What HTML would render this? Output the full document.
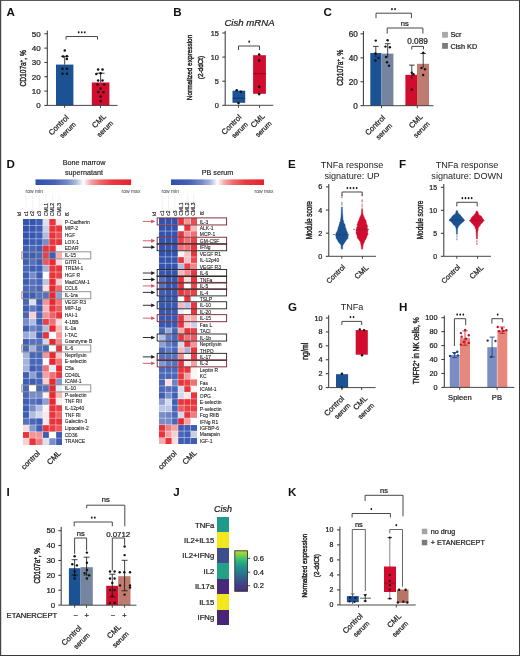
<!DOCTYPE html><html><head><meta charset="utf-8"><title>Figure</title><style>html,body{margin:0;padding:0;background:#fff;overflow:hidden;}svg{display:block;font-family:"Liberation Sans",sans-serif;fill:#222;}svg text{}</style></head><body>
<svg width="520" height="656" viewBox="0 0 520 656">
<defs><filter id="gaa" x="0" y="0" width="1" height="1" color-interpolation-filters="sRGB"><feGaussianBlur stdDeviation="0.3"/></filter></defs>
<g filter="url(#gaa)">
<rect x="0" y="0" width="520" height="656" fill="#fff"/>
<text x="6.6" y="15.9" font-size="11.6" font-weight="bold" fill="#111">A</text>
<rect x="56" y="64.59" width="17.4" height="40.81" fill="#1a5294"/>
<rect x="91.8" y="82.49" width="17.6" height="22.91" fill="#d20c2e"/>
<line x1="64.7" y1="64.59" x2="64.7" y2="56.3" stroke="#111" stroke-width="0.8"/>
<line x1="61" y1="56.3" x2="68.6" y2="56.3" stroke="#111" stroke-width="0.8"/>
<line x1="100.6" y1="82.49" x2="100.6" y2="73.2" stroke="#111" stroke-width="0.8"/>
<line x1="97" y1="73.2" x2="104.6" y2="73.2" stroke="#111" stroke-width="0.8"/>
<circle cx="64.75" cy="50.4" r="1.25" fill="#111"/>
<circle cx="63.1" cy="56.4" r="1.25" fill="#111"/>
<circle cx="66.9" cy="56.2" r="1.25" fill="#111"/>
<circle cx="66.9" cy="59" r="1.25" fill="#111"/>
<circle cx="62.5" cy="68.75" r="1.25" fill="#111"/>
<circle cx="66.9" cy="68.75" r="1.25" fill="#111"/>
<circle cx="62.5" cy="73.75" r="1.25" fill="#111"/>
<circle cx="66.9" cy="73.75" r="1.25" fill="#111"/>
<circle cx="98.1" cy="69.4" r="1.25" fill="#111"/>
<circle cx="102.5" cy="69.4" r="1.25" fill="#111"/>
<circle cx="96.3" cy="74" r="1.25" fill="#111"/>
<circle cx="100.6" cy="73.3" r="1.25" fill="#111"/>
<circle cx="98.1" cy="80.6" r="1.25" fill="#111"/>
<circle cx="102.5" cy="80.6" r="1.25" fill="#111"/>
<circle cx="97.5" cy="84.4" r="1.25" fill="#111"/>
<circle cx="104.2" cy="84.4" r="1.25" fill="#111"/>
<circle cx="100.6" cy="88.6" r="1.25" fill="#111"/>
<circle cx="98.3" cy="92" r="1.25" fill="#111"/>
<circle cx="103.3" cy="92.2" r="1.25" fill="#111"/>
<circle cx="100.6" cy="96.5" r="1.25" fill="#111"/>
<circle cx="100.6" cy="101" r="1.25" fill="#111"/>
<line x1="47.3" y1="30.6" x2="47.3" y2="105.4" stroke="#333" stroke-width="1"/>
<line x1="44.4" y1="105.4" x2="47.3" y2="105.4" stroke="#333" stroke-width="1"/>
<text x="40.7" y="108.2" font-size="8" text-anchor="end" stroke="#222" stroke-width="0.24">0</text>
<line x1="44.4" y1="91.08" x2="47.3" y2="91.08" stroke="#333" stroke-width="1"/>
<text x="40.7" y="93.88" font-size="8" text-anchor="end" stroke="#222" stroke-width="0.24">10</text>
<line x1="44.4" y1="76.76" x2="47.3" y2="76.76" stroke="#333" stroke-width="1"/>
<text x="40.7" y="79.56" font-size="8" text-anchor="end" stroke="#222" stroke-width="0.24">20</text>
<line x1="44.4" y1="62.44" x2="47.3" y2="62.44" stroke="#333" stroke-width="1"/>
<text x="40.7" y="65.24" font-size="8" text-anchor="end" stroke="#222" stroke-width="0.24">30</text>
<line x1="44.4" y1="48.12" x2="47.3" y2="48.12" stroke="#333" stroke-width="1"/>
<text x="40.7" y="50.92" font-size="8" text-anchor="end" stroke="#222" stroke-width="0.24">40</text>
<line x1="44.4" y1="33.8" x2="47.3" y2="33.8" stroke="#333" stroke-width="1"/>
<text x="40.7" y="36.6" font-size="8" text-anchor="end" stroke="#222" stroke-width="0.24">50</text>
<line x1="47.3" y1="105.4" x2="117.5" y2="105.4" stroke="#333" stroke-width="0.9"/>
<line x1="64.6" y1="105.4" x2="64.6" y2="107.9" stroke="#333" stroke-width="0.9"/>
<line x1="100.5" y1="105.4" x2="100.5" y2="107.9" stroke="#333" stroke-width="0.9"/>
<path d="M66 39.6V36.5H97.5V39.6" fill="none" stroke="#333" stroke-width="0.9"/>
<ellipse cx="78.7" cy="32.3" rx="0.9" ry="1.1" fill="#1a1a1a"/>
<ellipse cx="81.75" cy="32.3" rx="0.9" ry="1.1" fill="#1a1a1a"/>
<ellipse cx="84.8" cy="32.3" rx="0.9" ry="1.1" fill="#1a1a1a"/>
<text transform="translate(25.7,68.35) rotate(-90) scale(0.789,1)" font-size="8.4" text-anchor="middle" stroke="#222" stroke-width="0.4">CD107a<tspan dy="-3.19" font-size="5.21">+</tspan><tspan dy="3.19">, %</tspan></text>
<text transform="translate(58.5,125) rotate(-45)" font-size="7.7" text-anchor="middle" dy="0.35em" stroke="#222" stroke-width="0.24">Control</text>
<text transform="translate(67.7,130) rotate(-45)" font-size="7" text-anchor="middle" dy="0.35em" stroke="#222" stroke-width="0.24">serum</text>
<text transform="translate(98.8,120.8) rotate(-45)" font-size="7.7" text-anchor="middle" dy="0.35em" stroke="#222" stroke-width="0.24">CML</text>
<text transform="translate(105,128.8) rotate(-45)" font-size="7" text-anchor="middle" dy="0.35em" stroke="#222" stroke-width="0.24">serum</text>
<text x="173.2" y="15.9" font-size="11.6" font-weight="bold" fill="#111">B</text>
<text x="249.5" y="25.6" font-size="9.6" text-anchor="middle" font-style="italic" stroke="#222" stroke-width="0.24">Cish mRNA</text>
<rect x="232.5" y="90.7" width="12.7" height="12.1" fill="#1a5294"/>
<line x1="232.5" y1="98.2" x2="245.2" y2="98.2" stroke="#0d2f5c" stroke-width="0.7"/>
<rect x="253.1" y="55.2" width="12.8" height="38.6" fill="#d20c2e"/>
<line x1="253.1" y1="73.7" x2="265.9" y2="73.7" stroke="#7a0a1c" stroke-width="0.8"/>
<circle cx="236.7" cy="90.2" r="1.3" fill="#111"/>
<circle cx="240.8" cy="91.8" r="1.3" fill="#111"/>
<circle cx="238.5" cy="103.1" r="1.3" fill="#111"/>
<circle cx="259.2" cy="54.6" r="1.3" fill="#111"/>
<circle cx="259.2" cy="60.6" r="1.3" fill="#111"/>
<circle cx="259.2" cy="86.9" r="1.3" fill="#111"/>
<circle cx="259.2" cy="94.1" r="1.3" fill="#111"/>
<line x1="225.2" y1="30.8" x2="225.2" y2="105.3" stroke="#333" stroke-width="1"/>
<line x1="222.3" y1="105.3" x2="225.2" y2="105.3" stroke="#333" stroke-width="1"/>
<text x="218.9" y="107.87" font-size="7.35" text-anchor="end" stroke="#222" stroke-width="0.24">0</text>
<line x1="222.3" y1="81.2" x2="225.2" y2="81.2" stroke="#333" stroke-width="1"/>
<text x="218.9" y="83.77" font-size="7.35" text-anchor="end" stroke="#222" stroke-width="0.24">5</text>
<line x1="222.3" y1="57.1" x2="225.2" y2="57.1" stroke="#333" stroke-width="1"/>
<text x="218.9" y="59.67" font-size="7.35" text-anchor="end" stroke="#222" stroke-width="0.24">10</text>
<line x1="222.3" y1="33" x2="225.2" y2="33" stroke="#333" stroke-width="1"/>
<text x="218.9" y="35.57" font-size="7.35" text-anchor="end" stroke="#222" stroke-width="0.24">15</text>
<line x1="225.2" y1="105.3" x2="273.3" y2="105.3" stroke="#333" stroke-width="0.9"/>
<line x1="238.5" y1="105.3" x2="238.5" y2="107.8" stroke="#333" stroke-width="0.9"/>
<line x1="259.5" y1="105.3" x2="259.5" y2="107.8" stroke="#333" stroke-width="0.9"/>
<path d="M238.5 50V46H259.5V50" fill="none" stroke="#333" stroke-width="0.9"/>
<ellipse cx="249.2" cy="41.7" rx="0.9" ry="1.1" fill="#1a1a1a"/>
<text transform="translate(191.5,67.5) rotate(-90) scale(0.807,1)" font-size="8" text-anchor="middle" stroke="#222" stroke-width="0.4">Normalized expression</text>
<text transform="translate(203.2,67.5) rotate(-90) scale(0.801,1)" font-size="8" text-anchor="middle" stroke="#222" stroke-width="0.4">(2-ddCt)</text>
<text transform="translate(231.4,124.5) rotate(-45)" font-size="7.7" text-anchor="middle" dy="0.35em" stroke="#222" stroke-width="0.24">Control</text>
<text transform="translate(239.7,130) rotate(-45)" font-size="7" text-anchor="middle" dy="0.35em" stroke="#222" stroke-width="0.24">serum</text>
<text transform="translate(257.6,120.5) rotate(-45)" font-size="7.7" text-anchor="middle" dy="0.35em" stroke="#222" stroke-width="0.24">CML</text>
<text transform="translate(263.5,129) rotate(-45)" font-size="7" text-anchor="middle" dy="0.35em" stroke="#222" stroke-width="0.24">serum</text>
<text x="323.6" y="15.9" font-size="11.6" font-weight="bold" fill="#111">C</text>
<rect x="370.3" y="53.03" width="11.1" height="52.67" fill="#1a5294"/>
<rect x="381.4" y="53.63" width="12" height="52.07" fill="#75849f"/>
<rect x="405.4" y="74.82" width="11.6" height="30.88" fill="#d20c2e"/>
<rect x="417" y="63.8" width="12" height="41.9" fill="#c07b70"/>
<line x1="375.8" y1="46.4" x2="375.8" y2="57.03" stroke="#111" stroke-width="0.8"/>
<line x1="373" y1="46.4" x2="378.6" y2="46.4" stroke="#111" stroke-width="0.8"/>
<line x1="387.7" y1="43.7" x2="387.7" y2="57.63" stroke="#111" stroke-width="0.8"/>
<line x1="384.9" y1="43.7" x2="390.5" y2="43.7" stroke="#111" stroke-width="0.8"/>
<line x1="411.8" y1="65.1" x2="411.8" y2="78.82" stroke="#111" stroke-width="0.8"/>
<line x1="409" y1="65.1" x2="414.6" y2="65.1" stroke="#111" stroke-width="0.8"/>
<line x1="423.2" y1="53.5" x2="423.2" y2="67.81" stroke="#111" stroke-width="0.8"/>
<line x1="420.4" y1="53.5" x2="426" y2="53.5" stroke="#111" stroke-width="0.8"/>
<circle cx="375.8" cy="40.6" r="1.2" fill="#111"/>
<circle cx="375.4" cy="53.5" r="1.2" fill="#111"/>
<circle cx="375.4" cy="60.5" r="1.2" fill="#111"/>
<circle cx="378.5" cy="58" r="1.2" fill="#111"/>
<circle cx="387.6" cy="40.3" r="1.2" fill="#111"/>
<circle cx="385.5" cy="46.6" r="1.2" fill="#111"/>
<circle cx="389.9" cy="47.2" r="1.2" fill="#111"/>
<circle cx="387" cy="62.3" r="1.2" fill="#111"/>
<circle cx="389" cy="65.8" r="1.2" fill="#111"/>
<circle cx="386" cy="57" r="1.2" fill="#111"/>
<circle cx="411.8" cy="72.7" r="1.2" fill="#111"/>
<circle cx="413.5" cy="74.3" r="1.2" fill="#111"/>
<circle cx="411.8" cy="89.5" r="1.2" fill="#111"/>
<circle cx="423.2" cy="52.8" r="1.2" fill="#111"/>
<circle cx="421.5" cy="68" r="1.2" fill="#111"/>
<circle cx="425" cy="69.2" r="1.2" fill="#111"/>
<circle cx="423.2" cy="75" r="1.2" fill="#111"/>
<line x1="363.4" y1="31" x2="363.4" y2="105.7" stroke="#333" stroke-width="1"/>
<line x1="360.5" y1="105.7" x2="363.4" y2="105.7" stroke="#333" stroke-width="1"/>
<text x="357.8" y="108.57" font-size="8.2" text-anchor="end" stroke="#222" stroke-width="0.24">0</text>
<line x1="360.5" y1="81.76" x2="363.4" y2="81.76" stroke="#333" stroke-width="1"/>
<text x="357.8" y="84.63" font-size="8.2" text-anchor="end" stroke="#222" stroke-width="0.24">20</text>
<line x1="360.5" y1="57.82" x2="363.4" y2="57.82" stroke="#333" stroke-width="1"/>
<text x="357.8" y="60.69" font-size="8.2" text-anchor="end" stroke="#222" stroke-width="0.24">40</text>
<line x1="360.5" y1="33.88" x2="363.4" y2="33.88" stroke="#333" stroke-width="1"/>
<text x="357.8" y="36.75" font-size="8.2" text-anchor="end" stroke="#222" stroke-width="0.24">60</text>
<line x1="363.4" y1="105.7" x2="433.5" y2="105.7" stroke="#333" stroke-width="0.9"/>
<line x1="381.5" y1="105.7" x2="381.5" y2="108.2" stroke="#333" stroke-width="0.9"/>
<line x1="417.3" y1="105.7" x2="417.3" y2="108.2" stroke="#333" stroke-width="0.9"/>
<path d="M376 18.2V13.2H411.4V18.2" fill="none" stroke="#333" stroke-width="0.9"/>
<ellipse cx="391.98" cy="9.2" rx="0.9" ry="1.1" fill="#1a1a1a"/>
<ellipse cx="395.03" cy="9.2" rx="0.9" ry="1.1" fill="#1a1a1a"/>
<path d="M387.2 33.6V28H422.9V33.6" fill="none" stroke="#333" stroke-width="0.9"/>
<text x="404.7" y="26" font-size="7.6" text-anchor="middle" stroke="#222" stroke-width="0.24">ns</text>
<path d="M411.8 49.4V46.4H423.5V49.4" fill="none" stroke="#333" stroke-width="0.9"/>
<text x="417.5" y="44" font-size="8.2" text-anchor="middle" stroke="#222" stroke-width="0.24">0.089</text>
<text transform="translate(342.8,67.65) rotate(-90) scale(0.785,1)" font-size="8.4" text-anchor="middle" stroke="#222" stroke-width="0.4">CD107a<tspan dy="-3.19" font-size="5.21">+</tspan><tspan dy="3.19">, %</tspan></text>
<rect x="442.1" y="31.9" width="5.8" height="5.8" fill="#a8a8a8"/>
<rect x="442.1" y="43" width="5.8" height="5.8" fill="#7c7c7c"/>
<text x="450.4" y="37.4" font-size="7.3" stroke="#222" stroke-width="0.24">Scr</text>
<text x="450.4" y="48.5" font-size="7.3" stroke="#222" stroke-width="0.24">Cish KD</text>
<text transform="translate(375,125.2) rotate(-45)" font-size="7.7" text-anchor="middle" dy="0.35em" stroke="#222" stroke-width="0.24">Control</text>
<text transform="translate(383.9,131.3) rotate(-45)" font-size="7" text-anchor="middle" dy="0.35em" stroke="#222" stroke-width="0.24">serum</text>
<text transform="translate(415.7,121) rotate(-45)" font-size="7.7" text-anchor="middle" dy="0.35em" stroke="#222" stroke-width="0.24">CML</text>
<text transform="translate(421.5,129.6) rotate(-45)" font-size="7" text-anchor="middle" dy="0.35em" stroke="#222" stroke-width="0.24">serum</text>
<text x="6.5" y="168.4" font-size="11.6" font-weight="bold" fill="#111">D</text>
<text x="84" y="165" font-size="7.2" text-anchor="middle" stroke="#222" stroke-width="0.16">Bone marrow</text>
<text x="84" y="174.6" font-size="7.2" text-anchor="middle" stroke="#222" stroke-width="0.16">supernatant</text>
<text x="217.5" y="174.5" font-size="7.2" text-anchor="middle" stroke="#222" stroke-width="0.16">PB serum</text>
<defs><linearGradient id="cb1" x1="0" x2="1" y1="0" y2="0"><stop offset="0" stop-color="#2e4eac"/><stop offset="0.2" stop-color="#4662b5"/><stop offset="0.33" stop-color="#7388c7"/><stop offset="0.42" stop-color="#a9b6dd"/><stop offset="0.48" stop-color="#e8ecf6"/><stop offset="0.5" stop-color="#ffffff"/><stop offset="0.52" stop-color="#fce7e8"/><stop offset="0.58" stop-color="#f5a4a8"/><stop offset="0.67" stop-color="#ee6b70"/><stop offset="0.8" stop-color="#e93b42"/><stop offset="1" stop-color="#e6222a"/></linearGradient></defs>
<rect x="35.5" y="179.4" width="95.6" height="5.6" fill="url(#cb1)"/>
<defs><linearGradient id="cb2" x1="0" x2="1" y1="0" y2="0"><stop offset="0" stop-color="#2e4eac"/><stop offset="0.2" stop-color="#4662b5"/><stop offset="0.33" stop-color="#7388c7"/><stop offset="0.42" stop-color="#a9b6dd"/><stop offset="0.48" stop-color="#e8ecf6"/><stop offset="0.5" stop-color="#ffffff"/><stop offset="0.52" stop-color="#fce7e8"/><stop offset="0.58" stop-color="#f5a4a8"/><stop offset="0.67" stop-color="#ee6b70"/><stop offset="0.8" stop-color="#e93b42"/><stop offset="1" stop-color="#e6222a"/></linearGradient></defs>
<rect x="171" y="179.4" width="93" height="5.6" fill="url(#cb2)"/>
<text x="25.5" y="193" font-size="5" fill="#555" stroke="#555" stroke-width="0.05">row min</text>
<text x="121.5" y="193" font-size="5" fill="#555" stroke="#555" stroke-width="0.05">row max</text>
<text x="161.5" y="193" font-size="5" fill="#555" stroke="#555" stroke-width="0.05">row min</text>
<text x="254.5" y="193" font-size="5" fill="#555" stroke="#555" stroke-width="0.05">row max</text>
<g shape-rendering="crispEdges">
<rect x="22.8" y="218.8" width="6.6" height="6.65" fill="#3453ae"/>
<rect x="29.4" y="218.8" width="6.6" height="6.65" fill="#3453ae"/>
<rect x="36" y="218.8" width="6.6" height="6.65" fill="#3f5db3"/>
<rect x="42.6" y="218.8" width="6.6" height="6.65" fill="#dde2f2"/>
<rect x="49.2" y="218.8" width="6.6" height="6.65" fill="#e8343b"/>
<rect x="55.8" y="218.8" width="6.6" height="6.65" fill="#fce7e8"/>
<rect x="22.8" y="225.45" width="6.6" height="6.65" fill="#3453ae"/>
<rect x="29.4" y="225.45" width="6.6" height="6.65" fill="#3857b0"/>
<rect x="36" y="225.45" width="6.6" height="6.65" fill="#3f5db3"/>
<rect x="42.6" y="225.45" width="6.6" height="6.65" fill="#c7cfe9"/>
<rect x="49.2" y="225.45" width="6.6" height="6.65" fill="#e8343b"/>
<rect x="55.8" y="225.45" width="6.6" height="6.65" fill="#e8343b"/>
<rect x="22.8" y="232.1" width="6.6" height="6.65" fill="#3453ae"/>
<rect x="29.4" y="232.1" width="6.6" height="6.65" fill="#3857b0"/>
<rect x="36" y="232.1" width="6.6" height="6.65" fill="#3f5db3"/>
<rect x="42.6" y="232.1" width="6.6" height="6.65" fill="#b0bce0"/>
<rect x="49.2" y="232.1" width="6.6" height="6.65" fill="#e8343b"/>
<rect x="55.8" y="232.1" width="6.6" height="6.65" fill="#eb4c52"/>
<rect x="22.8" y="238.75" width="6.6" height="6.65" fill="#3453ae"/>
<rect x="29.4" y="238.75" width="6.6" height="6.65" fill="#3f5db3"/>
<rect x="36" y="238.75" width="6.6" height="6.65" fill="#3f5db3"/>
<rect x="42.6" y="238.75" width="6.6" height="6.65" fill="#788cc9"/>
<rect x="49.2" y="238.75" width="6.6" height="6.65" fill="#e8343b"/>
<rect x="55.8" y="238.75" width="6.6" height="6.65" fill="#e8343b"/>
<rect x="22.8" y="245.4" width="6.6" height="6.65" fill="#3f5db3"/>
<rect x="29.4" y="245.4" width="6.6" height="6.65" fill="#4a66b7"/>
<rect x="36" y="245.4" width="6.6" height="6.65" fill="#3f5db3"/>
<rect x="42.6" y="245.4" width="6.6" height="6.65" fill="#e8343b"/>
<rect x="49.2" y="245.4" width="6.6" height="6.65" fill="#e8343b"/>
<rect x="55.8" y="245.4" width="6.6" height="6.65" fill="#fef3f3"/>
<rect x="22.8" y="252.05" width="6.6" height="6.65" fill="#3f5db3"/>
<rect x="29.4" y="252.05" width="6.6" height="6.65" fill="#3f5db3"/>
<rect x="36" y="252.05" width="6.6" height="6.65" fill="#4a66b7"/>
<rect x="42.6" y="252.05" width="6.6" height="6.65" fill="#e94047"/>
<rect x="49.2" y="252.05" width="6.6" height="6.65" fill="#3f5db3"/>
<rect x="55.8" y="252.05" width="6.6" height="6.65" fill="#f6abae"/>
<rect x="22.8" y="258.7" width="6.6" height="6.65" fill="#3f5db3"/>
<rect x="29.4" y="258.7" width="6.6" height="6.65" fill="#5670bc"/>
<rect x="36" y="258.7" width="6.6" height="6.65" fill="#3f5db3"/>
<rect x="42.6" y="258.7" width="6.6" height="6.65" fill="#ec585e"/>
<rect x="49.2" y="258.7" width="6.6" height="6.65" fill="#e72830"/>
<rect x="55.8" y="258.7" width="6.6" height="6.65" fill="#fbdbdc"/>
<rect x="22.8" y="265.35" width="6.6" height="6.65" fill="#4a66b7"/>
<rect x="29.4" y="265.35" width="6.6" height="6.65" fill="#3f5db3"/>
<rect x="36" y="265.35" width="6.6" height="6.65" fill="#3f5db3"/>
<rect x="42.6" y="265.35" width="6.6" height="6.65" fill="#a5b3db"/>
<rect x="49.2" y="265.35" width="6.6" height="6.65" fill="#e8343b"/>
<rect x="55.8" y="265.35" width="6.6" height="6.65" fill="#e8343b"/>
<rect x="22.8" y="272" width="6.6" height="6.65" fill="#3f5db3"/>
<rect x="29.4" y="272" width="6.6" height="6.65" fill="#788cc9"/>
<rect x="36" y="272" width="6.6" height="6.65" fill="#3f5db3"/>
<rect x="42.6" y="272" width="6.6" height="6.65" fill="#ffffff"/>
<rect x="49.2" y="272" width="6.6" height="6.65" fill="#e8343b"/>
<rect x="55.8" y="272" width="6.6" height="6.65" fill="#e94047"/>
<rect x="22.8" y="278.65" width="6.6" height="6.65" fill="#3f5db3"/>
<rect x="29.4" y="278.65" width="6.6" height="6.65" fill="#5670bc"/>
<rect x="36" y="278.65" width="6.6" height="6.65" fill="#4a66b7"/>
<rect x="42.6" y="278.65" width="6.6" height="6.65" fill="#bbc6e4"/>
<rect x="49.2" y="278.65" width="6.6" height="6.65" fill="#e72830"/>
<rect x="55.8" y="278.65" width="6.6" height="6.65" fill="#facfd1"/>
<rect x="22.8" y="285.3" width="6.6" height="6.65" fill="#4a66b7"/>
<rect x="29.4" y="285.3" width="6.6" height="6.65" fill="#5670bc"/>
<rect x="36" y="285.3" width="6.6" height="6.65" fill="#4a66b7"/>
<rect x="42.6" y="285.3" width="6.6" height="6.65" fill="#fbdbdc"/>
<rect x="49.2" y="285.3" width="6.6" height="6.65" fill="#e72830"/>
<rect x="55.8" y="285.3" width="6.6" height="6.65" fill="#ed6469"/>
<rect x="22.8" y="291.95" width="6.6" height="6.65" fill="#3f5db3"/>
<rect x="29.4" y="291.95" width="6.6" height="6.65" fill="#3f5db3"/>
<rect x="36" y="291.95" width="6.6" height="6.65" fill="#5670bc"/>
<rect x="42.6" y="291.95" width="6.6" height="6.65" fill="#5670bc"/>
<rect x="49.2" y="291.95" width="6.6" height="6.65" fill="#e72830"/>
<rect x="55.8" y="291.95" width="6.6" height="6.65" fill="#8e9fd2"/>
<rect x="22.8" y="298.6" width="6.6" height="6.65" fill="#4a66b7"/>
<rect x="29.4" y="298.6" width="6.6" height="6.65" fill="#dde2f2"/>
<rect x="36" y="298.6" width="6.6" height="6.65" fill="#3f5db3"/>
<rect x="42.6" y="298.6" width="6.6" height="6.65" fill="#f39497"/>
<rect x="49.2" y="298.6" width="6.6" height="6.65" fill="#e72830"/>
<rect x="55.8" y="298.6" width="6.6" height="6.65" fill="#ef7075"/>
<rect x="22.8" y="305.25" width="6.6" height="6.65" fill="#3f5db3"/>
<rect x="29.4" y="305.25" width="6.6" height="6.65" fill="#6179c0"/>
<rect x="36" y="305.25" width="6.6" height="6.65" fill="#3f5db3"/>
<rect x="42.6" y="305.25" width="6.6" height="6.65" fill="#f7b7ba"/>
<rect x="49.2" y="305.25" width="6.6" height="6.65" fill="#e8343b"/>
<rect x="55.8" y="305.25" width="6.6" height="6.65" fill="#ec585e"/>
<rect x="22.8" y="311.9" width="6.6" height="6.65" fill="#4a66b7"/>
<rect x="29.4" y="311.9" width="6.6" height="6.65" fill="#facfd1"/>
<rect x="36" y="311.9" width="6.6" height="6.65" fill="#4a66b7"/>
<rect x="42.6" y="311.9" width="6.6" height="6.65" fill="#f39497"/>
<rect x="49.2" y="311.9" width="6.6" height="6.65" fill="#ed6469"/>
<rect x="55.8" y="311.9" width="6.6" height="6.65" fill="#e8343b"/>
<rect x="22.8" y="318.55" width="6.6" height="6.65" fill="#788cc9"/>
<rect x="29.4" y="318.55" width="6.6" height="6.65" fill="#b0bce0"/>
<rect x="36" y="318.55" width="6.6" height="6.65" fill="#3f5db3"/>
<rect x="42.6" y="318.55" width="6.6" height="6.65" fill="#e94047"/>
<rect x="49.2" y="318.55" width="6.6" height="6.65" fill="#ef7075"/>
<rect x="55.8" y="318.55" width="6.6" height="6.65" fill="#fbdbdc"/>
<rect x="22.8" y="325.2" width="6.6" height="6.65" fill="#3f5db3"/>
<rect x="29.4" y="325.2" width="6.6" height="6.65" fill="#6c83c5"/>
<rect x="36" y="325.2" width="6.6" height="6.65" fill="#5670bc"/>
<rect x="42.6" y="325.2" width="6.6" height="6.65" fill="#b0bce0"/>
<rect x="49.2" y="325.2" width="6.6" height="6.65" fill="#e72830"/>
<rect x="55.8" y="325.2" width="6.6" height="6.65" fill="#f7b7ba"/>
<rect x="22.8" y="331.85" width="6.6" height="6.65" fill="#99a9d7"/>
<rect x="29.4" y="331.85" width="6.6" height="6.65" fill="#b0bce0"/>
<rect x="36" y="331.85" width="6.6" height="6.65" fill="#3f5db3"/>
<rect x="42.6" y="331.85" width="6.6" height="6.65" fill="#e8343b"/>
<rect x="49.2" y="331.85" width="6.6" height="6.65" fill="#ffffff"/>
<rect x="55.8" y="331.85" width="6.6" height="6.65" fill="#f39497"/>
<rect x="22.8" y="338.5" width="6.6" height="6.65" fill="#3f5db3"/>
<rect x="29.4" y="338.5" width="6.6" height="6.65" fill="#5670bc"/>
<rect x="36" y="338.5" width="6.6" height="6.65" fill="#5670bc"/>
<rect x="42.6" y="338.5" width="6.6" height="6.65" fill="#d2d9ed"/>
<rect x="49.2" y="338.5" width="6.6" height="6.65" fill="#e72830"/>
<rect x="55.8" y="338.5" width="6.6" height="6.65" fill="#f2888c"/>
<rect x="22.8" y="345.15" width="6.6" height="6.65" fill="#4a66b7"/>
<rect x="29.4" y="345.15" width="6.6" height="6.65" fill="#a5b3db"/>
<rect x="36" y="345.15" width="6.6" height="6.65" fill="#5670bc"/>
<rect x="42.6" y="345.15" width="6.6" height="6.65" fill="#4a66b7"/>
<rect x="49.2" y="345.15" width="6.6" height="6.65" fill="#ffffff"/>
<rect x="55.8" y="345.15" width="6.6" height="6.65" fill="#e8343b"/>
<rect x="22.8" y="351.8" width="6.6" height="6.65" fill="#a5b3db"/>
<rect x="29.4" y="351.8" width="6.6" height="6.65" fill="#4a66b7"/>
<rect x="36" y="351.8" width="6.6" height="6.65" fill="#4a66b7"/>
<rect x="42.6" y="351.8" width="6.6" height="6.65" fill="#f39497"/>
<rect x="49.2" y="351.8" width="6.6" height="6.65" fill="#e72830"/>
<rect x="55.8" y="351.8" width="6.6" height="6.65" fill="#f8c3c5"/>
<rect x="22.8" y="358.45" width="6.6" height="6.65" fill="#a5b3db"/>
<rect x="29.4" y="358.45" width="6.6" height="6.65" fill="#4a66b7"/>
<rect x="36" y="358.45" width="6.6" height="6.65" fill="#4a66b7"/>
<rect x="42.6" y="358.45" width="6.6" height="6.65" fill="#ffffff"/>
<rect x="49.2" y="358.45" width="6.6" height="6.65" fill="#e72830"/>
<rect x="55.8" y="358.45" width="6.6" height="6.65" fill="#ef7075"/>
<rect x="22.8" y="365.1" width="6.6" height="6.65" fill="#a5b3db"/>
<rect x="29.4" y="365.1" width="6.6" height="6.65" fill="#3f5db3"/>
<rect x="36" y="365.1" width="6.6" height="6.65" fill="#4a66b7"/>
<rect x="42.6" y="365.1" width="6.6" height="6.65" fill="#ef7075"/>
<rect x="49.2" y="365.1" width="6.6" height="6.65" fill="#e8ecf6"/>
<rect x="55.8" y="365.1" width="6.6" height="6.65" fill="#e72830"/>
<rect x="22.8" y="371.75" width="6.6" height="6.65" fill="#3f5db3"/>
<rect x="29.4" y="371.75" width="6.6" height="6.65" fill="#8e9fd2"/>
<rect x="36" y="371.75" width="6.6" height="6.65" fill="#4a66b7"/>
<rect x="42.6" y="371.75" width="6.6" height="6.65" fill="#f4a0a3"/>
<rect x="49.2" y="371.75" width="6.6" height="6.65" fill="#ef7075"/>
<rect x="55.8" y="371.75" width="6.6" height="6.65" fill="#e8343b"/>
<rect x="22.8" y="378.4" width="6.6" height="6.65" fill="#3f5db3"/>
<rect x="29.4" y="378.4" width="6.6" height="6.65" fill="#3f5db3"/>
<rect x="36" y="378.4" width="6.6" height="6.65" fill="#4a66b7"/>
<rect x="42.6" y="378.4" width="6.6" height="6.65" fill="#facfd1"/>
<rect x="49.2" y="378.4" width="6.6" height="6.65" fill="#e72830"/>
<rect x="55.8" y="378.4" width="6.6" height="6.65" fill="#8396ce"/>
<rect x="22.8" y="385.05" width="6.6" height="6.65" fill="#4a66b7"/>
<rect x="29.4" y="385.05" width="6.6" height="6.65" fill="#ffffff"/>
<rect x="36" y="385.05" width="6.6" height="6.65" fill="#4a66b7"/>
<rect x="42.6" y="385.05" width="6.6" height="6.65" fill="#5670bc"/>
<rect x="49.2" y="385.05" width="6.6" height="6.65" fill="#e72830"/>
<rect x="55.8" y="385.05" width="6.6" height="6.65" fill="#e8ecf6"/>
<rect x="22.8" y="391.7" width="6.6" height="6.65" fill="#4a66b7"/>
<rect x="29.4" y="391.7" width="6.6" height="6.65" fill="#788cc9"/>
<rect x="36" y="391.7" width="6.6" height="6.65" fill="#788cc9"/>
<rect x="42.6" y="391.7" width="6.6" height="6.65" fill="#fef3f3"/>
<rect x="49.2" y="391.7" width="6.6" height="6.65" fill="#e72830"/>
<rect x="55.8" y="391.7" width="6.6" height="6.65" fill="#f7b7ba"/>
<rect x="22.8" y="398.35" width="6.6" height="6.65" fill="#3f5db3"/>
<rect x="29.4" y="398.35" width="6.6" height="6.65" fill="#5670bc"/>
<rect x="36" y="398.35" width="6.6" height="6.65" fill="#4a66b7"/>
<rect x="42.6" y="398.35" width="6.6" height="6.65" fill="#8e9fd2"/>
<rect x="49.2" y="398.35" width="6.6" height="6.65" fill="#e72830"/>
<rect x="55.8" y="398.35" width="6.6" height="6.65" fill="#fdeced"/>
<rect x="22.8" y="405" width="6.6" height="6.65" fill="#3f5db3"/>
<rect x="29.4" y="405" width="6.6" height="6.65" fill="#788cc9"/>
<rect x="36" y="405" width="6.6" height="6.65" fill="#b0bce0"/>
<rect x="42.6" y="405" width="6.6" height="6.65" fill="#fef3f3"/>
<rect x="49.2" y="405" width="6.6" height="6.65" fill="#e8343b"/>
<rect x="55.8" y="405" width="6.6" height="6.65" fill="#e94047"/>
<rect x="22.8" y="411.65" width="6.6" height="6.65" fill="#3f5db3"/>
<rect x="29.4" y="411.65" width="6.6" height="6.65" fill="#b0bce0"/>
<rect x="36" y="411.65" width="6.6" height="6.65" fill="#d2d9ed"/>
<rect x="42.6" y="411.65" width="6.6" height="6.65" fill="#fce7e8"/>
<rect x="49.2" y="411.65" width="6.6" height="6.65" fill="#e8343b"/>
<rect x="55.8" y="411.65" width="6.6" height="6.65" fill="#ed6469"/>
<rect x="22.8" y="418.3" width="6.6" height="6.65" fill="#5670bc"/>
<rect x="29.4" y="418.3" width="6.6" height="6.65" fill="#4a66b7"/>
<rect x="36" y="418.3" width="6.6" height="6.65" fill="#3f5db3"/>
<rect x="42.6" y="418.3" width="6.6" height="6.65" fill="#fce7e8"/>
<rect x="49.2" y="418.3" width="6.6" height="6.65" fill="#e8343b"/>
<rect x="55.8" y="418.3" width="6.6" height="6.65" fill="#e8343b"/>
<rect x="22.8" y="424.95" width="6.6" height="6.65" fill="#fbdbdc"/>
<rect x="29.4" y="424.95" width="6.6" height="6.65" fill="#8396ce"/>
<rect x="36" y="424.95" width="6.6" height="6.65" fill="#3f5db3"/>
<rect x="42.6" y="424.95" width="6.6" height="6.65" fill="#e8343b"/>
<rect x="49.2" y="424.95" width="6.6" height="6.65" fill="#e94047"/>
<rect x="55.8" y="424.95" width="6.6" height="6.65" fill="#ec585e"/>
<rect x="22.8" y="431.6" width="6.6" height="6.65" fill="#e8343b"/>
<rect x="29.4" y="431.6" width="6.6" height="6.65" fill="#f39497"/>
<rect x="36" y="431.6" width="6.6" height="6.65" fill="#f39497"/>
<rect x="42.6" y="431.6" width="6.6" height="6.65" fill="#3f5db3"/>
<rect x="49.2" y="431.6" width="6.6" height="6.65" fill="#ffffff"/>
<rect x="55.8" y="431.6" width="6.6" height="6.65" fill="#3f5db3"/>
<rect x="22.8" y="438.25" width="6.6" height="6.65" fill="#facfd1"/>
<rect x="29.4" y="438.25" width="6.6" height="6.65" fill="#e8343b"/>
<rect x="36" y="438.25" width="6.6" height="6.65" fill="#f07c80"/>
<rect x="42.6" y="438.25" width="6.6" height="6.65" fill="#dde2f2"/>
<rect x="49.2" y="438.25" width="6.6" height="6.65" fill="#788cc9"/>
<rect x="55.8" y="438.25" width="6.6" height="6.65" fill="#3f5db3"/>
</g>
<path d="M29.4 218.8V444.9M36 218.8V444.9M42.6 218.8V444.9M49.2 218.8V444.9M55.8 218.8V444.9M22.8 225.45H62.4M22.8 232.1H62.4M22.8 238.75H62.4M22.8 245.4H62.4M22.8 252.05H62.4M22.8 258.7H62.4M22.8 265.35H62.4M22.8 272H62.4M22.8 278.65H62.4M22.8 285.3H62.4M22.8 291.95H62.4M22.8 298.6H62.4M22.8 305.25H62.4M22.8 311.9H62.4M22.8 318.55H62.4M22.8 325.2H62.4M22.8 331.85H62.4M22.8 338.5H62.4M22.8 345.15H62.4M22.8 351.8H62.4M22.8 358.45H62.4M22.8 365.1H62.4M22.8 371.75H62.4M22.8 378.4H62.4M22.8 385.05H62.4M22.8 391.7H62.4M22.8 398.35H62.4M22.8 405H62.4M22.8 411.65H62.4M22.8 418.3H62.4M22.8 424.95H62.4M22.8 431.6H62.4M22.8 438.25H62.4" fill="none" stroke="#ffffff" stroke-width="0.75" stroke-opacity="0.55"/>
<text x="64.8" y="223.76" font-size="4.95" stroke="#222" stroke-width="0.1">P-Cadherin</text>
<text x="64.8" y="230.41" font-size="4.95" stroke="#222" stroke-width="0.1">MIP-2</text>
<text x="64.8" y="237.06" font-size="4.95" stroke="#222" stroke-width="0.1">HGF</text>
<text x="64.8" y="243.71" font-size="4.95" stroke="#222" stroke-width="0.1">LOX-1</text>
<text x="64.8" y="250.36" font-size="4.95" stroke="#222" stroke-width="0.1">EDAR</text>
<text x="64.8" y="257.01" font-size="4.95" stroke="#222" stroke-width="0.1">IL-15</text>
<text x="64.8" y="263.66" font-size="4.95" stroke="#222" stroke-width="0.1">GITR L</text>
<text x="64.8" y="270.31" font-size="4.95" stroke="#222" stroke-width="0.1">TREM-1</text>
<text x="64.8" y="276.96" font-size="4.95" stroke="#222" stroke-width="0.1">HGF R</text>
<text x="64.8" y="283.61" font-size="4.95" stroke="#222" stroke-width="0.1">MadCAM-1</text>
<text x="64.8" y="290.26" font-size="4.95" stroke="#222" stroke-width="0.1">CCL6</text>
<text x="64.8" y="296.91" font-size="4.95" stroke="#222" stroke-width="0.1">IL-1ra</text>
<text x="64.8" y="303.56" font-size="4.95" stroke="#222" stroke-width="0.1">VEGF R3</text>
<text x="64.8" y="310.21" font-size="4.95" stroke="#222" stroke-width="0.1">MIP-1g</text>
<text x="64.8" y="316.86" font-size="4.95" stroke="#222" stroke-width="0.1">HAI-1</text>
<text x="64.8" y="323.51" font-size="4.95" stroke="#222" stroke-width="0.1">4-1BB</text>
<text x="64.8" y="330.16" font-size="4.95" stroke="#222" stroke-width="0.1">IL-1a</text>
<text x="64.8" y="336.81" font-size="4.95" stroke="#222" stroke-width="0.1">I-TAC</text>
<text x="64.8" y="343.46" font-size="4.95" stroke="#222" stroke-width="0.1">Granzyme B</text>
<text x="64.8" y="350.11" font-size="4.95" stroke="#222" stroke-width="0.1">IL-6</text>
<text x="64.8" y="356.76" font-size="4.95" stroke="#222" stroke-width="0.1">Neprilysin</text>
<text x="64.8" y="363.41" font-size="4.95" stroke="#222" stroke-width="0.1">E-selectin</text>
<text x="64.8" y="370.06" font-size="4.95" stroke="#222" stroke-width="0.1">C5a</text>
<text x="64.8" y="376.71" font-size="4.95" stroke="#222" stroke-width="0.1">CD40L</text>
<text x="64.8" y="383.36" font-size="4.95" stroke="#222" stroke-width="0.1">ICAM-1</text>
<text x="64.8" y="390.01" font-size="4.95" stroke="#222" stroke-width="0.1">IL-10</text>
<text x="64.8" y="396.66" font-size="4.95" stroke="#222" stroke-width="0.1">P-selectin</text>
<text x="64.8" y="403.31" font-size="4.95" stroke="#222" stroke-width="0.1">TNF RII</text>
<text x="64.8" y="409.96" font-size="4.95" stroke="#222" stroke-width="0.1">IL-12p40</text>
<text x="64.8" y="416.61" font-size="4.95" stroke="#222" stroke-width="0.1">TNF RI</text>
<text x="64.8" y="423.26" font-size="4.95" stroke="#222" stroke-width="0.1">Galectin-3</text>
<text x="64.8" y="429.91" font-size="4.95" stroke="#222" stroke-width="0.1">Lipocalin-2</text>
<text x="64.8" y="436.56" font-size="4.95" stroke="#222" stroke-width="0.1">CD36</text>
<text x="64.8" y="443.21" font-size="4.95" stroke="#222" stroke-width="0.1">TRANCE</text>
<line x1="26.1" y1="194.2" x2="26.1" y2="211.2" stroke="#e6e6e6" stroke-width="0.5"/>
<line x1="32.7" y1="194.2" x2="32.7" y2="211.2" stroke="#e6e6e6" stroke-width="0.5"/>
<line x1="39.3" y1="194.2" x2="39.3" y2="211.2" stroke="#e6e6e6" stroke-width="0.5"/>
<line x1="45.9" y1="194.2" x2="45.9" y2="205.2" stroke="#e6e6e6" stroke-width="0.5"/>
<line x1="52.5" y1="194.2" x2="52.5" y2="205.2" stroke="#e6e6e6" stroke-width="0.5"/>
<line x1="59.1" y1="194.2" x2="59.1" y2="205.2" stroke="#e6e6e6" stroke-width="0.5"/>
<text transform="translate(19.5,216.2) rotate(-90)" font-size="5" text-anchor="start" dy="0.35em" stroke="#222" stroke-width="0.16">id</text>
<text transform="translate(26.1,216.2) rotate(-90)" font-size="5" text-anchor="start" dy="0.35em" stroke="#222" stroke-width="0.16">c1</text>
<text transform="translate(32.7,216.2) rotate(-90)" font-size="5" text-anchor="start" dy="0.35em" stroke="#222" stroke-width="0.16">c2</text>
<text transform="translate(39.3,216.2) rotate(-90)" font-size="5" text-anchor="start" dy="0.35em" stroke="#222" stroke-width="0.16">c3</text>
<text transform="translate(45.9,216.2) rotate(-90)" font-size="5" text-anchor="start" dy="0.35em" stroke="#222" stroke-width="0.16">CML1</text>
<text transform="translate(52.5,216.2) rotate(-90)" font-size="5" text-anchor="start" dy="0.35em" stroke="#222" stroke-width="0.16">CML2</text>
<text transform="translate(59.1,216.2) rotate(-90)" font-size="5" text-anchor="start" dy="0.35em" stroke="#222" stroke-width="0.16">CML3</text>
<text x="64.8" y="215.7" font-size="5" stroke="#222" stroke-width="0.16">id</text>
<rect x="21.9" y="251.85" width="68.9" height="7.05" fill="none" stroke="#777" stroke-width="0.8"/>
<rect x="21.9" y="291.75" width="68.9" height="7.05" fill="none" stroke="#777" stroke-width="0.8"/>
<rect x="21.9" y="344.95" width="68.9" height="7.05" fill="none" stroke="#777" stroke-width="0.8"/>
<rect x="21.9" y="384.85" width="68.9" height="7.05" fill="none" stroke="#777" stroke-width="0.8"/>
<g shape-rendering="crispEdges">
<rect x="159.1" y="218.2" width="6.28" height="6.45" fill="#3453ae"/>
<rect x="165.38" y="218.2" width="6.28" height="6.45" fill="#3453ae"/>
<rect x="171.66" y="218.2" width="6.28" height="6.45" fill="#3453ae"/>
<rect x="177.94" y="218.2" width="6.28" height="6.45" fill="#e8343b"/>
<rect x="184.22" y="218.2" width="6.28" height="6.45" fill="#f39497"/>
<rect x="190.5" y="218.2" width="6.28" height="6.45" fill="#eb4c52"/>
<rect x="159.1" y="224.65" width="6.28" height="6.45" fill="#3453ae"/>
<rect x="165.38" y="224.65" width="6.28" height="6.45" fill="#3453ae"/>
<rect x="171.66" y="224.65" width="6.28" height="6.45" fill="#3453ae"/>
<rect x="177.94" y="224.65" width="6.28" height="6.45" fill="#ffffff"/>
<rect x="184.22" y="224.65" width="6.28" height="6.45" fill="#e8343b"/>
<rect x="190.5" y="224.65" width="6.28" height="6.45" fill="#f7b7ba"/>
<rect x="159.1" y="231.1" width="6.28" height="6.45" fill="#3453ae"/>
<rect x="165.38" y="231.1" width="6.28" height="6.45" fill="#3453ae"/>
<rect x="171.66" y="231.1" width="6.28" height="6.45" fill="#3453ae"/>
<rect x="177.94" y="231.1" width="6.28" height="6.45" fill="#e8343b"/>
<rect x="184.22" y="231.1" width="6.28" height="6.45" fill="#f39497"/>
<rect x="190.5" y="231.1" width="6.28" height="6.45" fill="#ef7075"/>
<rect x="159.1" y="237.55" width="6.28" height="6.45" fill="#3453ae"/>
<rect x="165.38" y="237.55" width="6.28" height="6.45" fill="#3453ae"/>
<rect x="171.66" y="237.55" width="6.28" height="6.45" fill="#3453ae"/>
<rect x="177.94" y="237.55" width="6.28" height="6.45" fill="#e94047"/>
<rect x="184.22" y="237.55" width="6.28" height="6.45" fill="#ef7075"/>
<rect x="190.5" y="237.55" width="6.28" height="6.45" fill="#e94047"/>
<rect x="159.1" y="244" width="6.28" height="6.45" fill="#3453ae"/>
<rect x="165.38" y="244" width="6.28" height="6.45" fill="#3857b0"/>
<rect x="171.66" y="244" width="6.28" height="6.45" fill="#3453ae"/>
<rect x="177.94" y="244" width="6.28" height="6.45" fill="#ef7075"/>
<rect x="184.22" y="244" width="6.28" height="6.45" fill="#ef7075"/>
<rect x="190.5" y="244" width="6.28" height="6.45" fill="#e8343b"/>
<rect x="159.1" y="250.45" width="6.28" height="6.45" fill="#3453ae"/>
<rect x="165.38" y="250.45" width="6.28" height="6.45" fill="#3453ae"/>
<rect x="171.66" y="250.45" width="6.28" height="6.45" fill="#3453ae"/>
<rect x="177.94" y="250.45" width="6.28" height="6.45" fill="#fef3f3"/>
<rect x="184.22" y="250.45" width="6.28" height="6.45" fill="#f8c3c5"/>
<rect x="190.5" y="250.45" width="6.28" height="6.45" fill="#e8343b"/>
<rect x="159.1" y="256.9" width="6.28" height="6.45" fill="#3453ae"/>
<rect x="165.38" y="256.9" width="6.28" height="6.45" fill="#3453ae"/>
<rect x="171.66" y="256.9" width="6.28" height="6.45" fill="#3453ae"/>
<rect x="177.94" y="256.9" width="6.28" height="6.45" fill="#e8343b"/>
<rect x="184.22" y="256.9" width="6.28" height="6.45" fill="#f8c3c5"/>
<rect x="190.5" y="256.9" width="6.28" height="6.45" fill="#eb4c52"/>
<rect x="159.1" y="263.35" width="6.28" height="6.45" fill="#3453ae"/>
<rect x="165.38" y="263.35" width="6.28" height="6.45" fill="#3453ae"/>
<rect x="171.66" y="263.35" width="6.28" height="6.45" fill="#3453ae"/>
<rect x="177.94" y="263.35" width="6.28" height="6.45" fill="#b0bce0"/>
<rect x="184.22" y="263.35" width="6.28" height="6.45" fill="#e94047"/>
<rect x="190.5" y="263.35" width="6.28" height="6.45" fill="#f2888c"/>
<rect x="159.1" y="269.8" width="6.28" height="6.45" fill="#3857b0"/>
<rect x="165.38" y="269.8" width="6.28" height="6.45" fill="#3453ae"/>
<rect x="171.66" y="269.8" width="6.28" height="6.45" fill="#3453ae"/>
<rect x="177.94" y="269.8" width="6.28" height="6.45" fill="#f7b7ba"/>
<rect x="184.22" y="269.8" width="6.28" height="6.45" fill="#f2888c"/>
<rect x="190.5" y="269.8" width="6.28" height="6.45" fill="#e8343b"/>
<rect x="159.1" y="276.25" width="6.28" height="6.45" fill="#5670bc"/>
<rect x="165.38" y="276.25" width="6.28" height="6.45" fill="#3857b0"/>
<rect x="171.66" y="276.25" width="6.28" height="6.45" fill="#3857b0"/>
<rect x="177.94" y="276.25" width="6.28" height="6.45" fill="#e8343b"/>
<rect x="184.22" y="276.25" width="6.28" height="6.45" fill="#fbdbdc"/>
<rect x="190.5" y="276.25" width="6.28" height="6.45" fill="#e8343b"/>
<rect x="159.1" y="282.7" width="6.28" height="6.45" fill="#5670bc"/>
<rect x="165.38" y="282.7" width="6.28" height="6.45" fill="#3857b0"/>
<rect x="171.66" y="282.7" width="6.28" height="6.45" fill="#3857b0"/>
<rect x="177.94" y="282.7" width="6.28" height="6.45" fill="#e8343b"/>
<rect x="184.22" y="282.7" width="6.28" height="6.45" fill="#ffffff"/>
<rect x="190.5" y="282.7" width="6.28" height="6.45" fill="#eb4c52"/>
<rect x="159.1" y="289.15" width="6.28" height="6.45" fill="#3f5db3"/>
<rect x="165.38" y="289.15" width="6.28" height="6.45" fill="#3857b0"/>
<rect x="171.66" y="289.15" width="6.28" height="6.45" fill="#3857b0"/>
<rect x="177.94" y="289.15" width="6.28" height="6.45" fill="#e8343b"/>
<rect x="184.22" y="289.15" width="6.28" height="6.45" fill="#eb4c52"/>
<rect x="190.5" y="289.15" width="6.28" height="6.45" fill="#e94047"/>
<rect x="159.1" y="295.6" width="6.28" height="6.45" fill="#3857b0"/>
<rect x="165.38" y="295.6" width="6.28" height="6.45" fill="#3857b0"/>
<rect x="171.66" y="295.6" width="6.28" height="6.45" fill="#3857b0"/>
<rect x="177.94" y="295.6" width="6.28" height="6.45" fill="#ffffff"/>
<rect x="184.22" y="295.6" width="6.28" height="6.45" fill="#e8343b"/>
<rect x="190.5" y="295.6" width="6.28" height="6.45" fill="#f4f5fb"/>
<rect x="159.1" y="302.05" width="6.28" height="6.45" fill="#3857b0"/>
<rect x="165.38" y="302.05" width="6.28" height="6.45" fill="#3857b0"/>
<rect x="171.66" y="302.05" width="6.28" height="6.45" fill="#3857b0"/>
<rect x="177.94" y="302.05" width="6.28" height="6.45" fill="#f7b7ba"/>
<rect x="184.22" y="302.05" width="6.28" height="6.45" fill="#bbc6e4"/>
<rect x="190.5" y="302.05" width="6.28" height="6.45" fill="#e8343b"/>
<rect x="159.1" y="308.5" width="6.28" height="6.45" fill="#3857b0"/>
<rect x="165.38" y="308.5" width="6.28" height="6.45" fill="#3857b0"/>
<rect x="171.66" y="308.5" width="6.28" height="6.45" fill="#3857b0"/>
<rect x="177.94" y="308.5" width="6.28" height="6.45" fill="#e8ecf6"/>
<rect x="184.22" y="308.5" width="6.28" height="6.45" fill="#ffffff"/>
<rect x="190.5" y="308.5" width="6.28" height="6.45" fill="#e8343b"/>
<rect x="159.1" y="314.95" width="6.28" height="6.45" fill="#3857b0"/>
<rect x="165.38" y="314.95" width="6.28" height="6.45" fill="#3857b0"/>
<rect x="171.66" y="314.95" width="6.28" height="6.45" fill="#3857b0"/>
<rect x="177.94" y="314.95" width="6.28" height="6.45" fill="#e8343b"/>
<rect x="184.22" y="314.95" width="6.28" height="6.45" fill="#f8c3c5"/>
<rect x="190.5" y="314.95" width="6.28" height="6.45" fill="#f6abae"/>
<rect x="159.1" y="321.4" width="6.28" height="6.45" fill="#3857b0"/>
<rect x="165.38" y="321.4" width="6.28" height="6.45" fill="#3857b0"/>
<rect x="171.66" y="321.4" width="6.28" height="6.45" fill="#3857b0"/>
<rect x="177.94" y="321.4" width="6.28" height="6.45" fill="#e8343b"/>
<rect x="184.22" y="321.4" width="6.28" height="6.45" fill="#facfd1"/>
<rect x="190.5" y="321.4" width="6.28" height="6.45" fill="#c7cfe9"/>
<rect x="159.1" y="327.85" width="6.28" height="6.45" fill="#4a66b7"/>
<rect x="165.38" y="327.85" width="6.28" height="6.45" fill="#99a9d7"/>
<rect x="171.66" y="327.85" width="6.28" height="6.45" fill="#4a66b7"/>
<rect x="177.94" y="327.85" width="6.28" height="6.45" fill="#f6abae"/>
<rect x="184.22" y="327.85" width="6.28" height="6.45" fill="#e8343b"/>
<rect x="190.5" y="327.85" width="6.28" height="6.45" fill="#e94047"/>
<rect x="159.1" y="334.3" width="6.28" height="6.45" fill="#b0bce0"/>
<rect x="165.38" y="334.3" width="6.28" height="6.45" fill="#6179c0"/>
<rect x="171.66" y="334.3" width="6.28" height="6.45" fill="#4a66b7"/>
<rect x="177.94" y="334.3" width="6.28" height="6.45" fill="#e8343b"/>
<rect x="184.22" y="334.3" width="6.28" height="6.45" fill="#ef7075"/>
<rect x="190.5" y="334.3" width="6.28" height="6.45" fill="#ec585e"/>
<rect x="159.1" y="340.75" width="6.28" height="6.45" fill="#8e9fd2"/>
<rect x="165.38" y="340.75" width="6.28" height="6.45" fill="#6179c0"/>
<rect x="171.66" y="340.75" width="6.28" height="6.45" fill="#4a66b7"/>
<rect x="177.94" y="340.75" width="6.28" height="6.45" fill="#d2d9ed"/>
<rect x="184.22" y="340.75" width="6.28" height="6.45" fill="#e8343b"/>
<rect x="190.5" y="340.75" width="6.28" height="6.45" fill="#f39497"/>
<rect x="159.1" y="347.2" width="6.28" height="6.45" fill="#4a66b7"/>
<rect x="165.38" y="347.2" width="6.28" height="6.45" fill="#6179c0"/>
<rect x="171.66" y="347.2" width="6.28" height="6.45" fill="#4a66b7"/>
<rect x="177.94" y="347.2" width="6.28" height="6.45" fill="#f7b7ba"/>
<rect x="184.22" y="347.2" width="6.28" height="6.45" fill="#a5b3db"/>
<rect x="190.5" y="347.2" width="6.28" height="6.45" fill="#e8343b"/>
<rect x="159.1" y="353.65" width="6.28" height="6.45" fill="#5670bc"/>
<rect x="165.38" y="353.65" width="6.28" height="6.45" fill="#5670bc"/>
<rect x="171.66" y="353.65" width="6.28" height="6.45" fill="#5670bc"/>
<rect x="177.94" y="353.65" width="6.28" height="6.45" fill="#f2888c"/>
<rect x="184.22" y="353.65" width="6.28" height="6.45" fill="#fef3f3"/>
<rect x="190.5" y="353.65" width="6.28" height="6.45" fill="#e94047"/>
<rect x="159.1" y="360.1" width="6.28" height="6.45" fill="#8396ce"/>
<rect x="165.38" y="360.1" width="6.28" height="6.45" fill="#6179c0"/>
<rect x="171.66" y="360.1" width="6.28" height="6.45" fill="#5670bc"/>
<rect x="177.94" y="360.1" width="6.28" height="6.45" fill="#e8343b"/>
<rect x="184.22" y="360.1" width="6.28" height="6.45" fill="#fce7e8"/>
<rect x="190.5" y="360.1" width="6.28" height="6.45" fill="#f4a0a3"/>
<rect x="159.1" y="366.55" width="6.28" height="6.45" fill="#4a66b7"/>
<rect x="165.38" y="366.55" width="6.28" height="6.45" fill="#4a66b7"/>
<rect x="171.66" y="366.55" width="6.28" height="6.45" fill="#4a66b7"/>
<rect x="177.94" y="366.55" width="6.28" height="6.45" fill="#e8343b"/>
<rect x="184.22" y="366.55" width="6.28" height="6.45" fill="#e8343b"/>
<rect x="190.5" y="366.55" width="6.28" height="6.45" fill="#fef3f3"/>
<rect x="159.1" y="373" width="6.28" height="6.45" fill="#4a66b7"/>
<rect x="165.38" y="373" width="6.28" height="6.45" fill="#4a66b7"/>
<rect x="171.66" y="373" width="6.28" height="6.45" fill="#4a66b7"/>
<rect x="177.94" y="373" width="6.28" height="6.45" fill="#e8343b"/>
<rect x="184.22" y="373" width="6.28" height="6.45" fill="#f4a0a3"/>
<rect x="190.5" y="373" width="6.28" height="6.45" fill="#fef8f8"/>
<rect x="159.1" y="379.45" width="6.28" height="6.45" fill="#4a66b7"/>
<rect x="165.38" y="379.45" width="6.28" height="6.45" fill="#fbdbdc"/>
<rect x="171.66" y="379.45" width="6.28" height="6.45" fill="#6c83c5"/>
<rect x="177.94" y="379.45" width="6.28" height="6.45" fill="#e8343b"/>
<rect x="184.22" y="379.45" width="6.28" height="6.45" fill="#e94047"/>
<rect x="190.5" y="379.45" width="6.28" height="6.45" fill="#ef7075"/>
<rect x="159.1" y="385.9" width="6.28" height="6.45" fill="#4a66b7"/>
<rect x="165.38" y="385.9" width="6.28" height="6.45" fill="#5670bc"/>
<rect x="171.66" y="385.9" width="6.28" height="6.45" fill="#4a66b7"/>
<rect x="177.94" y="385.9" width="6.28" height="6.45" fill="#d2d9ed"/>
<rect x="184.22" y="385.9" width="6.28" height="6.45" fill="#e8343b"/>
<rect x="190.5" y="385.9" width="6.28" height="6.45" fill="#fef3f3"/>
<rect x="159.1" y="392.35" width="6.28" height="6.45" fill="#3f5db3"/>
<rect x="165.38" y="392.35" width="6.28" height="6.45" fill="#788cc9"/>
<rect x="171.66" y="392.35" width="6.28" height="6.45" fill="#3f5db3"/>
<rect x="177.94" y="392.35" width="6.28" height="6.45" fill="#d2d9ed"/>
<rect x="184.22" y="392.35" width="6.28" height="6.45" fill="#fce7e8"/>
<rect x="190.5" y="392.35" width="6.28" height="6.45" fill="#e8343b"/>
<rect x="159.1" y="398.8" width="6.28" height="6.45" fill="#8e9fd2"/>
<rect x="165.38" y="398.8" width="6.28" height="6.45" fill="#d2d9ed"/>
<rect x="171.66" y="398.8" width="6.28" height="6.45" fill="#3f5db3"/>
<rect x="177.94" y="398.8" width="6.28" height="6.45" fill="#e8343b"/>
<rect x="184.22" y="398.8" width="6.28" height="6.45" fill="#e8343b"/>
<rect x="190.5" y="398.8" width="6.28" height="6.45" fill="#e8343b"/>
<rect x="159.1" y="405.25" width="6.28" height="6.45" fill="#bbc6e4"/>
<rect x="165.38" y="405.25" width="6.28" height="6.45" fill="#bbc6e4"/>
<rect x="171.66" y="405.25" width="6.28" height="6.45" fill="#4a66b7"/>
<rect x="177.94" y="405.25" width="6.28" height="6.45" fill="#ec585e"/>
<rect x="184.22" y="405.25" width="6.28" height="6.45" fill="#e94047"/>
<rect x="190.5" y="405.25" width="6.28" height="6.45" fill="#e94047"/>
<rect x="159.1" y="411.7" width="6.28" height="6.45" fill="#788cc9"/>
<rect x="165.38" y="411.7" width="6.28" height="6.45" fill="#6c83c5"/>
<rect x="171.66" y="411.7" width="6.28" height="6.45" fill="#4a66b7"/>
<rect x="177.94" y="411.7" width="6.28" height="6.45" fill="#d2d9ed"/>
<rect x="184.22" y="411.7" width="6.28" height="6.45" fill="#e8343b"/>
<rect x="190.5" y="411.7" width="6.28" height="6.45" fill="#f07c80"/>
<rect x="159.1" y="418.15" width="6.28" height="6.45" fill="#788cc9"/>
<rect x="165.38" y="418.15" width="6.28" height="6.45" fill="#788cc9"/>
<rect x="171.66" y="418.15" width="6.28" height="6.45" fill="#4a66b7"/>
<rect x="177.94" y="418.15" width="6.28" height="6.45" fill="#e72830"/>
<rect x="184.22" y="418.15" width="6.28" height="6.45" fill="#f4a0a3"/>
<rect x="190.5" y="418.15" width="6.28" height="6.45" fill="#ffffff"/>
<rect x="159.1" y="424.6" width="6.28" height="6.45" fill="#e8343b"/>
<rect x="165.38" y="424.6" width="6.28" height="6.45" fill="#f07c80"/>
<rect x="171.66" y="424.6" width="6.28" height="6.45" fill="#f4a0a3"/>
<rect x="177.94" y="424.6" width="6.28" height="6.45" fill="#3f5db3"/>
<rect x="184.22" y="424.6" width="6.28" height="6.45" fill="#3f5db3"/>
<rect x="190.5" y="424.6" width="6.28" height="6.45" fill="#3f5db3"/>
<rect x="159.1" y="431.05" width="6.28" height="6.45" fill="#e8343b"/>
<rect x="165.38" y="431.05" width="6.28" height="6.45" fill="#f4a0a3"/>
<rect x="171.66" y="431.05" width="6.28" height="6.45" fill="#facfd1"/>
<rect x="177.94" y="431.05" width="6.28" height="6.45" fill="#4a66b7"/>
<rect x="184.22" y="431.05" width="6.28" height="6.45" fill="#3f5db3"/>
<rect x="190.5" y="431.05" width="6.28" height="6.45" fill="#c7cfe9"/>
<rect x="159.1" y="437.5" width="6.28" height="6.45" fill="#f6abae"/>
<rect x="165.38" y="437.5" width="6.28" height="6.45" fill="#e8343b"/>
<rect x="171.66" y="437.5" width="6.28" height="6.45" fill="#fbdbdc"/>
<rect x="177.94" y="437.5" width="6.28" height="6.45" fill="#3f5db3"/>
<rect x="184.22" y="437.5" width="6.28" height="6.45" fill="#3f5db3"/>
<rect x="190.5" y="437.5" width="6.28" height="6.45" fill="#3f5db3"/>
</g>
<path d="M165.38 218.2V443.95M171.66 218.2V443.95M177.94 218.2V443.95M184.22 218.2V443.95M190.5 218.2V443.95M159.1 224.65H196.78M159.1 231.1H196.78M159.1 237.55H196.78M159.1 244H196.78M159.1 250.45H196.78M159.1 256.9H196.78M159.1 263.35H196.78M159.1 269.8H196.78M159.1 276.25H196.78M159.1 282.7H196.78M159.1 289.15H196.78M159.1 295.6H196.78M159.1 302.05H196.78M159.1 308.5H196.78M159.1 314.95H196.78M159.1 321.4H196.78M159.1 327.85H196.78M159.1 334.3H196.78M159.1 340.75H196.78M159.1 347.2H196.78M159.1 353.65H196.78M159.1 360.1H196.78M159.1 366.55H196.78M159.1 373H196.78M159.1 379.45H196.78M159.1 385.9H196.78M159.1 392.35H196.78M159.1 398.8H196.78M159.1 405.25H196.78M159.1 411.7H196.78M159.1 418.15H196.78M159.1 424.6H196.78M159.1 431.05H196.78M159.1 437.5H196.78" fill="none" stroke="#ffffff" stroke-width="0.75" stroke-opacity="0.55"/>
<text x="199.8" y="223.56" font-size="4.95" stroke="#222" stroke-width="0.1">IL-3</text>
<text x="199.8" y="230.01" font-size="4.95" stroke="#222" stroke-width="0.1">ALK-1</text>
<text x="199.8" y="236.46" font-size="4.95" stroke="#222" stroke-width="0.1">MCP-1</text>
<text x="199.8" y="242.91" font-size="4.95" stroke="#222" stroke-width="0.1">GM-CSF</text>
<text x="199.8" y="249.36" font-size="4.95" stroke="#222" stroke-width="0.1">IFNg</text>
<text x="199.8" y="255.81" font-size="4.95" stroke="#222" stroke-width="0.1">VEGF R1</text>
<text x="199.8" y="262.26" font-size="4.95" stroke="#222" stroke-width="0.1">IL-12p40</text>
<text x="199.8" y="268.71" font-size="4.95" stroke="#222" stroke-width="0.1">VEGF R3</text>
<text x="199.8" y="275.16" font-size="4.95" stroke="#222" stroke-width="0.1">IL-6</text>
<text x="199.8" y="281.61" font-size="4.95" stroke="#222" stroke-width="0.1">TNFa</text>
<text x="199.8" y="288.06" font-size="4.95" stroke="#222" stroke-width="0.1">IL-5</text>
<text x="199.8" y="294.51" font-size="4.95" stroke="#222" stroke-width="0.1">IL-4</text>
<text x="199.8" y="300.96" font-size="4.95" stroke="#222" stroke-width="0.1">TSLP</text>
<text x="199.8" y="307.41" font-size="4.95" stroke="#222" stroke-width="0.1">IL-10</text>
<text x="199.8" y="313.86" font-size="4.95" stroke="#222" stroke-width="0.1">IL-20</text>
<text x="199.8" y="320.31" font-size="4.95" stroke="#222" stroke-width="0.1">IL-15</text>
<text x="199.8" y="326.76" font-size="4.95" stroke="#222" stroke-width="0.1">Fas L</text>
<text x="199.8" y="333.21" font-size="4.95" stroke="#222" stroke-width="0.1">TACI</text>
<text x="199.8" y="339.66" font-size="4.95" stroke="#222" stroke-width="0.1">IL-1b</text>
<text x="199.8" y="346.11" font-size="4.95" stroke="#222" stroke-width="0.1">Neprilysin</text>
<text x="199.8" y="352.56" font-size="4.95" stroke="#222" stroke-width="0.1">THPO</text>
<text x="199.8" y="359.01" font-size="4.95" stroke="#222" stroke-width="0.1">IL-17</text>
<text x="199.8" y="365.46" font-size="4.95" stroke="#222" stroke-width="0.1">IL-2</text>
<text x="199.8" y="371.91" font-size="4.95" stroke="#222" stroke-width="0.1">Leptin R</text>
<text x="199.8" y="378.36" font-size="4.95" stroke="#222" stroke-width="0.1">KC</text>
<text x="199.8" y="384.81" font-size="4.95" stroke="#222" stroke-width="0.1">Fas</text>
<text x="199.8" y="391.26" font-size="4.95" stroke="#222" stroke-width="0.1">ICAM-1</text>
<text x="199.8" y="397.71" font-size="4.95" stroke="#222" stroke-width="0.1">OPG</text>
<text x="199.8" y="404.16" font-size="4.95" stroke="#222" stroke-width="0.1">E-selectin</text>
<text x="199.8" y="410.61" font-size="4.95" stroke="#222" stroke-width="0.1">P-selectin</text>
<text x="199.8" y="417.06" font-size="4.95" stroke="#222" stroke-width="0.1">Fcg RIIB</text>
<text x="199.8" y="423.51" font-size="4.95" stroke="#222" stroke-width="0.1">IFNg R1</text>
<text x="199.8" y="429.96" font-size="4.95" stroke="#222" stroke-width="0.1">IGFBP-6</text>
<text x="199.8" y="436.41" font-size="4.95" stroke="#222" stroke-width="0.1">Marapsin</text>
<text x="199.8" y="442.86" font-size="4.95" stroke="#222" stroke-width="0.1">IGF-1</text>
<line x1="162.24" y1="193.8" x2="162.24" y2="210.8" stroke="#e6e6e6" stroke-width="0.5"/>
<line x1="168.52" y1="193.8" x2="168.52" y2="210.8" stroke="#e6e6e6" stroke-width="0.5"/>
<line x1="174.8" y1="193.8" x2="174.8" y2="210.8" stroke="#e6e6e6" stroke-width="0.5"/>
<line x1="181.08" y1="193.8" x2="181.08" y2="204.8" stroke="#e6e6e6" stroke-width="0.5"/>
<line x1="187.36" y1="193.8" x2="187.36" y2="204.8" stroke="#e6e6e6" stroke-width="0.5"/>
<line x1="193.64" y1="193.8" x2="193.64" y2="204.8" stroke="#e6e6e6" stroke-width="0.5"/>
<text transform="translate(154.6,215.8) rotate(-90)" font-size="5" text-anchor="start" dy="0.35em" stroke="#222" stroke-width="0.16">id</text>
<text transform="translate(162.24,215.8) rotate(-90)" font-size="5" text-anchor="start" dy="0.35em" stroke="#222" stroke-width="0.16">c1</text>
<text transform="translate(168.52,215.8) rotate(-90)" font-size="5" text-anchor="start" dy="0.35em" stroke="#222" stroke-width="0.16">c2</text>
<text transform="translate(174.8,215.8) rotate(-90)" font-size="5" text-anchor="start" dy="0.35em" stroke="#222" stroke-width="0.16">c3</text>
<text transform="translate(181.08,215.8) rotate(-90)" font-size="5" text-anchor="start" dy="0.35em" stroke="#222" stroke-width="0.16">CML1</text>
<text transform="translate(187.36,215.8) rotate(-90)" font-size="5" text-anchor="start" dy="0.35em" stroke="#222" stroke-width="0.16">CML2</text>
<text transform="translate(193.64,215.8) rotate(-90)" font-size="5" text-anchor="start" dy="0.35em" stroke="#222" stroke-width="0.16">CML3</text>
<text x="199.8" y="215.3" font-size="5" stroke="#222" stroke-width="0.16">id</text>
<rect x="157.2" y="217.9" width="69.4" height="7.05" fill="none" stroke="#7e2a33" stroke-width="0.95"/>
<line x1="142.8" y1="221.42" x2="152.2" y2="221.42" stroke="#d0525c" stroke-width="0.9"/>
<path d="M155.2 221.42L151.2 219.52L151.2 223.32Z" fill="#d0525c" stroke="none" stroke-width="1"/>
<rect x="157.2" y="237.25" width="69.4" height="7.05" fill="none" stroke="#7e2a33" stroke-width="0.95"/>
<line x1="142.8" y1="240.77" x2="152.2" y2="240.77" stroke="#d0525c" stroke-width="0.9"/>
<path d="M155.2 240.77L151.2 238.87L151.2 242.67Z" fill="#d0525c" stroke="none" stroke-width="1"/>
<rect x="157.2" y="243.7" width="69.4" height="7.05" fill="none" stroke="#2a2a2a" stroke-width="0.95"/>
<line x1="142.8" y1="247.22" x2="152.2" y2="247.22" stroke="#1a1a1a" stroke-width="0.9"/>
<path d="M155.2 247.22L151.2 245.32L151.2 249.12Z" fill="#1a1a1a" stroke="none" stroke-width="1"/>
<rect x="157.2" y="269.5" width="69.4" height="7.05" fill="none" stroke="#2a2a2a" stroke-width="0.95"/>
<line x1="142.8" y1="273.03" x2="152.2" y2="273.03" stroke="#1a1a1a" stroke-width="0.9"/>
<path d="M155.2 273.03L151.2 271.13L151.2 274.93Z" fill="#1a1a1a" stroke="none" stroke-width="1"/>
<rect x="157.2" y="275.95" width="69.4" height="7.05" fill="none" stroke="#2a2a2a" stroke-width="0.95"/>
<line x1="142.8" y1="279.48" x2="152.2" y2="279.48" stroke="#1a1a1a" stroke-width="0.9"/>
<path d="M155.2 279.48L151.2 277.58L151.2 281.38Z" fill="#1a1a1a" stroke="none" stroke-width="1"/>
<rect x="157.2" y="282.4" width="69.4" height="7.05" fill="none" stroke="#7e2a33" stroke-width="0.95"/>
<line x1="142.8" y1="285.93" x2="152.2" y2="285.93" stroke="#d0525c" stroke-width="0.9"/>
<path d="M155.2 285.93L151.2 284.03L151.2 287.82Z" fill="#d0525c" stroke="none" stroke-width="1"/>
<rect x="157.2" y="288.85" width="69.4" height="7.05" fill="none" stroke="#2a2a2a" stroke-width="0.95"/>
<line x1="142.8" y1="292.38" x2="152.2" y2="292.38" stroke="#1a1a1a" stroke-width="0.9"/>
<path d="M155.2 292.38L151.2 290.48L151.2 294.27Z" fill="#1a1a1a" stroke="none" stroke-width="1"/>
<rect x="157.2" y="301.75" width="69.4" height="7.05" fill="none" stroke="#2a2a2a" stroke-width="0.95"/>
<line x1="142.8" y1="305.28" x2="152.2" y2="305.28" stroke="#1a1a1a" stroke-width="0.9"/>
<path d="M155.2 305.28L151.2 303.38L151.2 307.18Z" fill="#1a1a1a" stroke="none" stroke-width="1"/>
<rect x="157.2" y="314.65" width="69.4" height="7.05" fill="none" stroke="#7e2a33" stroke-width="0.95"/>
<line x1="142.8" y1="318.18" x2="152.2" y2="318.18" stroke="#d0525c" stroke-width="0.9"/>
<path d="M155.2 318.18L151.2 316.28L151.2 320.07Z" fill="#d0525c" stroke="none" stroke-width="1"/>
<rect x="157.2" y="334" width="69.4" height="7.05" fill="none" stroke="#2a2a2a" stroke-width="0.95"/>
<line x1="142.8" y1="337.53" x2="152.2" y2="337.53" stroke="#1a1a1a" stroke-width="0.9"/>
<path d="M155.2 337.53L151.2 335.63L151.2 339.43Z" fill="#1a1a1a" stroke="none" stroke-width="1"/>
<rect x="157.2" y="353.35" width="69.4" height="7.05" fill="none" stroke="#2a2a2a" stroke-width="0.95"/>
<line x1="142.8" y1="356.88" x2="152.2" y2="356.88" stroke="#1a1a1a" stroke-width="0.9"/>
<path d="M155.2 356.88L151.2 354.98L151.2 358.77Z" fill="#1a1a1a" stroke="none" stroke-width="1"/>
<rect x="157.2" y="359.8" width="69.4" height="7.05" fill="none" stroke="#7e2a33" stroke-width="0.95"/>
<line x1="142.8" y1="363.33" x2="152.2" y2="363.33" stroke="#d0525c" stroke-width="0.9"/>
<path d="M155.2 363.33L151.2 361.43L151.2 365.23Z" fill="#d0525c" stroke="none" stroke-width="1"/>
<text transform="translate(30.5,460) rotate(-45)" font-size="7.6" text-anchor="middle" dy="0.35em" stroke="#222" stroke-width="0.24">control</text>
<text transform="translate(53.9,457.5) rotate(-45)" font-size="7.8" text-anchor="middle" dy="0.35em" stroke="#222" stroke-width="0.24">CML</text>
<text transform="translate(167.3,460) rotate(-45)" font-size="7.6" text-anchor="middle" dy="0.35em" stroke="#222" stroke-width="0.24">control</text>
<text transform="translate(189.5,457.3) rotate(-45)" font-size="7.8" text-anchor="middle" dy="0.35em" stroke="#222" stroke-width="0.24">CML</text>
<text x="288" y="168.4" font-size="11.6" font-weight="bold" fill="#111">E</text>
<text x="352" y="167.5" font-size="9.1" text-anchor="middle">TNFa response</text>
<text x="352" y="178.6" font-size="9.1" text-anchor="middle">signature: UP</text>
<path d="M342.35 206.9L342.38 207.7L342.41 208.5L342.44 209.3L342.47 210.1L342.51 210.9L342.54 211.7L342.57 212.5L342.6 213.3L342.67 214.22L342.73 215.13L342.8 216.05L342.87 216.97L342.93 217.88L343 218.8L343.05 219.7L343.38 220.6L343.79 221.5L343.66 222.43L344.13 223.37L344.95 224.3L345.09 225.2L345.2 226.1L345.44 227L345.62 227.9L346.04 228.82L346.43 229.75L346.44 230.68L347.16 231.6L347.38 232.53L347.7 233.45L347.8 234.38L348.16 235.3L348.37 236.2L347.75 237.1L348.23 238L347.36 238.9L346.64 239.8L345.9 240.7L345.36 241.63L344.73 242.57L344.15 243.5L343.47 244.4L342.8 245.3L342.73 246.37L342.67 247.43L342.6 248.5L342.2 249.3L341.6 249.3L341.2 248.5L341.13 247.43L341.07 246.37L341 245.3L340.69 244.4L339.56 243.5L338.9 242.57L338.22 241.63L337.74 240.7L337.25 239.8L336.67 238.9L335.94 238L336 237.1L335.98 236.2L335.3 235.3L335.71 234.38L335.96 233.45L336.31 232.53L336.92 231.6L337.55 230.68L337.49 229.75L338.18 228.82L338.03 227.9L338.19 227L338.94 226.1L338.97 225.2L339.22 224.3L339.69 223.37L339.56 222.43L340.4 221.5L340.26 220.6L340.54 219.7L340.8 218.8L340.87 217.88L340.93 216.97L341 216.05L341.07 215.13L341.13 214.22L341.2 213.3L341.23 212.5L341.26 211.7L341.29 210.9L341.32 210.1L341.36 209.3L341.39 208.5L341.42 207.7L341.45 206.9Z" fill="#1a5294" stroke="#1a5294" stroke-width="0.4"/>
<path d="M362.55 208.7L362.6 209.62L362.65 210.54L362.7 211.46L362.75 212.38L362.8 213.3L363.03 214.2L363.27 215.1L363.59 216L364.14 216.93L364.53 217.87L364.47 218.8L365.58 219.7L366.01 220.6L366.18 221.5L366.46 222.43L366.31 223.35L366.72 224.27L367.29 225.2L367.47 226.12L367.5 227.04L367.23 227.96L367.54 228.88L368.24 229.8L367.73 230.7L367.89 231.6L367.63 232.5L367.95 233.4L368.08 234.3L367.43 235.23L367 236.15L366.84 237.07L366.35 238L365.95 238.9L365.66 239.8L364.67 240.7L364.51 241.63L364.27 242.57L363.67 243.5L363.3 244.5L363.1 245.5L362.9 246.5L362.85 247.5L362.8 248.5L362.4 249.3L361.8 249.3L361.4 248.5L361.35 247.5L361.3 246.5L361.1 245.5L360.9 244.5L360.46 243.5L360.6 242.57L360.14 241.63L359.41 240.7L358.78 239.8L358.27 238.9L357.38 238L357.15 237.07L357.25 236.15L356.91 235.23L356.54 234.3L356.05 233.4L356.05 232.5L356.22 231.6L356 230.7L356.04 229.8L356.66 228.88L356.36 227.96L357.04 227.04L357.19 226.12L357.34 225.2L357.03 224.27L357.75 223.35L357.72 222.43L358.18 221.5L358.74 220.6L358.83 219.7L359.42 218.8L359.54 217.87L359.96 216.93L360.53 216L360.93 215.1L361.17 214.2L361.4 213.3L361.45 212.38L361.5 211.46L361.55 210.54L361.6 209.62L361.65 208.7Z" fill="#d20c2e" stroke="#d20c2e" stroke-width="0.4"/>
<rect x="341.3" y="194.6" width="1.2" height="1.8" fill="#7f8fa8"/>
<rect x="341.3" y="196.6" width="1.2" height="1.8" fill="#7f8fa8"/>
<rect x="341.3" y="201.9" width="1.2" height="1.8" fill="#7f8fa8"/>
<rect x="341.3" y="203.7" width="1.2" height="1.8" fill="#7f8fa8"/>
<rect x="361.5" y="194.4" width="1.2" height="1.8" fill="#d87d8d"/>
<rect x="361.5" y="199.3" width="1.2" height="1.8" fill="#d87d8d"/>
<rect x="361.5" y="200.6" width="1.2" height="1.8" fill="#d87d8d"/>
<rect x="361.5" y="203.7" width="1.2" height="1.8" fill="#d87d8d"/>
<rect x="361.5" y="205.6" width="1.2" height="1.8" fill="#d87d8d"/>
<line x1="333.2" y1="234.5" x2="350.1" y2="234.5" stroke="#333" stroke-width="0.7" stroke-dasharray="1.6 1.2"/>
<line x1="353.3" y1="229.3" x2="369.3" y2="229.3" stroke="#333" stroke-width="0.7" stroke-dasharray="1.6 1.2"/>
<line x1="328.8" y1="184" x2="328.8" y2="256.3" stroke="#333" stroke-width="1"/>
<line x1="325.9" y1="256.3" x2="328.8" y2="256.3" stroke="#333" stroke-width="1"/>
<text x="322.3" y="258.82" font-size="7.2" text-anchor="end" stroke="#222" stroke-width="0.24">0</text>
<line x1="325.9" y1="233.16" x2="328.8" y2="233.16" stroke="#333" stroke-width="1"/>
<text x="322.3" y="235.68" font-size="7.2" text-anchor="end" stroke="#222" stroke-width="0.24">2</text>
<line x1="325.9" y1="210.02" x2="328.8" y2="210.02" stroke="#333" stroke-width="1"/>
<text x="322.3" y="212.54" font-size="7.2" text-anchor="end" stroke="#222" stroke-width="0.24">4</text>
<line x1="325.9" y1="186.88" x2="328.8" y2="186.88" stroke="#333" stroke-width="1"/>
<text x="322.3" y="189.4" font-size="7.2" text-anchor="end" stroke="#222" stroke-width="0.24">6</text>
<line x1="328.8" y1="256.3" x2="376" y2="256.3" stroke="#333" stroke-width="0.9"/>
<line x1="341.8" y1="256.3" x2="341.8" y2="258.8" stroke="#333" stroke-width="0.9"/>
<line x1="362.4" y1="256.3" x2="362.4" y2="258.8" stroke="#333" stroke-width="0.9"/>
<path d="M342 196V192H362.2V196" fill="none" stroke="#333" stroke-width="0.9"/>
<ellipse cx="347.35" cy="188.1" rx="0.9" ry="1.1" fill="#1a1a1a"/>
<ellipse cx="350.45" cy="188.1" rx="0.9" ry="1.1" fill="#1a1a1a"/>
<ellipse cx="353.55" cy="188.1" rx="0.9" ry="1.1" fill="#1a1a1a"/>
<ellipse cx="356.65" cy="188.1" rx="0.9" ry="1.1" fill="#1a1a1a"/>
<text transform="translate(312.4,220.2) rotate(-90) scale(0.758,1)" font-size="8.4" text-anchor="middle" stroke="#222" stroke-width="0.4">Module score</text>
<text transform="translate(335.6,274) rotate(-45)" font-size="7.2" text-anchor="middle" dy="0.35em" stroke="#222" stroke-width="0.24">Control</text>
<text transform="translate(361.4,272) rotate(-45)" font-size="7.6" text-anchor="middle" dy="0.35em" stroke="#222" stroke-width="0.24">CML</text>
<text x="399" y="168.4" font-size="11.6" font-weight="bold" fill="#111">F</text>
<text x="467" y="167.5" font-size="9.1" text-anchor="middle">TNFa response</text>
<text x="467" y="178.6" font-size="9.1" text-anchor="middle">signature: DOWN</text>
<path d="M457.4 210.6L457.73 211.5L458.07 212.4L458.28 213.3L459.51 214.2L460.43 215.1L461.09 216L461.72 216.84L462.38 217.68L463.27 218.52L463.7 219.36L464.69 220.2L463.85 221L463.33 221.8L462.45 222.6L461.15 223.4L460.27 224.47L459.18 225.53L458.5 226.6L458 227.75L457.6 228.9L457.57 229.8L457.53 230.7L457.5 231.6L457.47 232.5L457.43 233.4L457.4 234.3L456.4 234.3L456.37 233.4L456.33 232.5L456.3 231.6L456.27 230.7L456.23 229.8L456.2 228.9L455.8 227.75L455.49 226.6L454.34 225.53L453.18 224.47L452.67 223.4L451.75 222.6L451.12 221.8L450.07 221L448.89 220.2L450.03 219.36L450.25 218.52L451.41 217.68L451.81 216.84L452.39 216L453.49 215.1L454.7 214.2L455.64 213.3L455.73 212.4L456.07 211.5L456.4 210.6Z" fill="#1a5294" stroke="#1a5294" stroke-width="0.4"/>
<path d="M477.4 211L477.9 212.07L478.37 213.13L478.65 214.2L479.55 215.13L481.18 216.07L481.94 217L482.13 217.9L483.14 218.8L483.71 219.7L483.92 220.6L483.3 221.53L482.56 222.45L481.62 223.38L480.62 224.3L480.4 225.2L479.6 226.1L478.86 227L478.25 227.9L478.05 228.72L478.39 229.54L477.98 230.36L477.84 231.18L477.7 232L477.66 232.86L477.62 233.72L477.59 234.59L477.55 235.45L477.51 236.31L477.47 237.18L477.44 238.04L477.4 238.9L476.4 238.9L476.36 238.04L476.32 237.18L476.29 236.31L476.25 235.45L476.21 234.59L476.17 233.72L476.14 232.86L476.1 232L475.96 231.18L475.82 230.36L475.99 229.54L475.27 228.72L475.18 227.9L474.98 227L474.44 226.1L473.37 225.2L473.05 224.3L471.93 223.38L471.11 222.45L470.2 221.53L469.97 220.6L470.49 219.7L470.83 218.8L471.43 217.9L471.82 217L473.19 216.07L473.9 215.13L474.64 214.2L475.49 213.13L475.9 212.07L476.4 211Z" fill="#d20c2e" stroke="#d20c2e" stroke-width="0.4"/>
<rect x="456.3" y="235.6" width="1.2" height="1.8" fill="#7f8fa8"/>
<rect x="456.3" y="238.4" width="1.2" height="1.8" fill="#7f8fa8"/>
<rect x="476.3" y="240.4" width="1.2" height="1.8" fill="#c45a6a"/>
<rect x="476.3" y="242.9" width="1.2" height="1.8" fill="#c45a6a"/>
<line x1="449" y1="220.2" x2="465" y2="220.2" stroke="#333" stroke-width="0.6" stroke-dasharray="1.4 1.2"/>
<line x1="469" y1="220.6" x2="485" y2="220.6" stroke="#333" stroke-width="0.6" stroke-dasharray="1.4 1.2"/>
<line x1="443.8" y1="184" x2="443.8" y2="256.3" stroke="#333" stroke-width="1"/>
<line x1="440.9" y1="256.3" x2="443.8" y2="256.3" stroke="#333" stroke-width="1"/>
<text x="437" y="258.72" font-size="6.9" text-anchor="end" stroke="#222" stroke-width="0.24">0</text>
<line x1="440.9" y1="233.3" x2="443.8" y2="233.3" stroke="#333" stroke-width="1"/>
<text x="437" y="235.72" font-size="6.9" text-anchor="end" stroke="#222" stroke-width="0.24">5</text>
<line x1="440.9" y1="210.3" x2="443.8" y2="210.3" stroke="#333" stroke-width="1"/>
<text x="437" y="212.72" font-size="6.9" text-anchor="end" stroke="#222" stroke-width="0.24">10</text>
<line x1="440.9" y1="187.3" x2="443.8" y2="187.3" stroke="#333" stroke-width="1"/>
<text x="437" y="189.72" font-size="6.9" text-anchor="end" stroke="#222" stroke-width="0.24">15</text>
<line x1="443.8" y1="256.3" x2="491" y2="256.3" stroke="#333" stroke-width="0.9"/>
<line x1="456.8" y1="256.3" x2="456.8" y2="258.8" stroke="#333" stroke-width="0.9"/>
<line x1="477.6" y1="256.3" x2="477.6" y2="258.8" stroke="#333" stroke-width="0.9"/>
<path d="M456.8 206.4V202.3H477.2V206.4" fill="none" stroke="#333" stroke-width="0.9"/>
<ellipse cx="462.35" cy="198.2" rx="0.9" ry="1.1" fill="#1a1a1a"/>
<ellipse cx="465.45" cy="198.2" rx="0.9" ry="1.1" fill="#1a1a1a"/>
<ellipse cx="468.55" cy="198.2" rx="0.9" ry="1.1" fill="#1a1a1a"/>
<ellipse cx="471.65" cy="198.2" rx="0.9" ry="1.1" fill="#1a1a1a"/>
<text transform="translate(423,220) rotate(-90) scale(0.766,1)" font-size="8.4" text-anchor="middle" stroke="#222" stroke-width="0.4">Module score</text>
<text transform="translate(450.6,274) rotate(-45)" font-size="7.2" text-anchor="middle" dy="0.35em" stroke="#222" stroke-width="0.24">Control</text>
<text transform="translate(476.4,272) rotate(-45)" font-size="7.6" text-anchor="middle" dy="0.35em" stroke="#222" stroke-width="0.24">CML</text>
<text x="288.1" y="311.1" font-size="11.6" font-weight="bold" fill="#111">G</text>
<text x="352" y="310.4" font-size="9.1" text-anchor="middle">TNFa</text>
<rect x="336" y="374.2" width="12.1" height="13.4" fill="#1a5294"/>
<rect x="355.7" y="330.1" width="12.1" height="24.6" fill="#d20c2e"/>
<circle cx="341.9" cy="373.8" r="1.2" fill="#111"/>
<circle cx="341.9" cy="387.6" r="1.2" fill="#111"/>
<circle cx="359.8" cy="329.4" r="1.2" fill="#111"/>
<circle cx="364" cy="330.1" r="1.2" fill="#111"/>
<circle cx="362" cy="355.3" r="1.2" fill="#111"/>
<line x1="328.7" y1="315.2" x2="328.7" y2="387.6" stroke="#333" stroke-width="1"/>
<line x1="325.8" y1="387.6" x2="328.7" y2="387.6" stroke="#333" stroke-width="1"/>
<text x="322.6" y="390.16" font-size="7.3" text-anchor="end" stroke="#222" stroke-width="0.24">0</text>
<line x1="325.8" y1="373.68" x2="328.7" y2="373.68" stroke="#333" stroke-width="1"/>
<text x="322.6" y="376.24" font-size="7.3" text-anchor="end" stroke="#222" stroke-width="0.24">2</text>
<line x1="325.8" y1="359.76" x2="328.7" y2="359.76" stroke="#333" stroke-width="1"/>
<text x="322.6" y="362.32" font-size="7.3" text-anchor="end" stroke="#222" stroke-width="0.24">4</text>
<line x1="325.8" y1="345.84" x2="328.7" y2="345.84" stroke="#333" stroke-width="1"/>
<text x="322.6" y="348.4" font-size="7.3" text-anchor="end" stroke="#222" stroke-width="0.24">6</text>
<line x1="325.8" y1="331.92" x2="328.7" y2="331.92" stroke="#333" stroke-width="1"/>
<text x="322.6" y="334.48" font-size="7.3" text-anchor="end" stroke="#222" stroke-width="0.24">8</text>
<line x1="325.8" y1="318" x2="328.7" y2="318" stroke="#333" stroke-width="1"/>
<text x="322.6" y="320.56" font-size="7.3" text-anchor="end" stroke="#222" stroke-width="0.24">10</text>
<line x1="328.7" y1="387.6" x2="375.6" y2="387.6" stroke="#333" stroke-width="0.9"/>
<line x1="341.9" y1="387.6" x2="341.9" y2="390.1" stroke="#333" stroke-width="0.9"/>
<line x1="361.7" y1="387.6" x2="361.7" y2="390.1" stroke="#333" stroke-width="0.9"/>
<path d="M341.9 324.9V321.4H361.7V324.9" fill="none" stroke="#333" stroke-width="0.9"/>
<ellipse cx="350.48" cy="317.1" rx="0.9" ry="1.1" fill="#1a1a1a"/>
<ellipse cx="353.53" cy="317.1" rx="0.9" ry="1.1" fill="#1a1a1a"/>
<text transform="translate(308,351.25) rotate(-90) scale(0.833,1)" font-size="8.4" text-anchor="middle" stroke="#222" stroke-width="0.4">ng/ml</text>
<text transform="translate(334,405.8) rotate(-45)" font-size="7.7" text-anchor="middle" dy="0.35em" stroke="#222" stroke-width="0.24">Control</text>
<text transform="translate(342.3,411) rotate(-45)" font-size="7" text-anchor="middle" dy="0.35em" stroke="#222" stroke-width="0.24">serum</text>
<text transform="translate(360,402.8) rotate(-45)" font-size="7.7" text-anchor="middle" dy="0.35em" stroke="#222" stroke-width="0.24">CML</text>
<text transform="translate(366,411) rotate(-45)" font-size="7" text-anchor="middle" dy="0.35em" stroke="#222" stroke-width="0.24">serum</text>
<text x="399" y="311.1" font-size="11.6" font-weight="bold" fill="#111">H</text>
<rect x="449.8" y="355" width="9.8" height="32.4" fill="#7b8ec4"/>
<rect x="460" y="338.1" width="10" height="49.3" fill="#e8877b"/>
<rect x="487.3" y="347.2" width="9.6" height="40.2" fill="#7b8ec4"/>
<rect x="497.4" y="330.2" width="9.9" height="57.2" fill="#e8877b"/>
<line x1="454.7" y1="352.5" x2="454.7" y2="357.5" stroke="#1d3f80" stroke-width="0.8"/>
<line x1="452.1" y1="352.5" x2="457.3" y2="352.5" stroke="#1d3f80" stroke-width="0.8"/>
<line x1="452.1" y1="357.5" x2="457.3" y2="357.5" stroke="#1d3f80" stroke-width="0.8"/>
<line x1="465" y1="330.9" x2="465" y2="345.3" stroke="#c0102e" stroke-width="0.8"/>
<line x1="462.4" y1="330.9" x2="467.6" y2="330.9" stroke="#c0102e" stroke-width="0.8"/>
<line x1="462.4" y1="345.3" x2="467.6" y2="345.3" stroke="#c0102e" stroke-width="0.8"/>
<line x1="492.1" y1="337.1" x2="492.1" y2="356.9" stroke="#1d3f80" stroke-width="0.8"/>
<line x1="489.5" y1="337.1" x2="494.7" y2="337.1" stroke="#1d3f80" stroke-width="0.8"/>
<line x1="489.5" y1="356.9" x2="494.7" y2="356.9" stroke="#1d3f80" stroke-width="0.8"/>
<line x1="502.3" y1="327" x2="502.3" y2="333.4" stroke="#c0102e" stroke-width="0.8"/>
<line x1="499.7" y1="327" x2="504.9" y2="327" stroke="#c0102e" stroke-width="0.8"/>
<line x1="499.7" y1="333.4" x2="504.9" y2="333.4" stroke="#c0102e" stroke-width="0.8"/>
<circle cx="450.1" cy="355.9" r="1.2" fill="#1d3f80"/>
<circle cx="454.4" cy="353.3" r="1.2" fill="#1d3f80"/>
<circle cx="457.3" cy="351.8" r="1.2" fill="#1d3f80"/>
<circle cx="458" cy="355.4" r="1.2" fill="#1d3f80"/>
<circle cx="465.2" cy="329.9" r="1.2" fill="#c0102e"/>
<circle cx="460.9" cy="333.1" r="1.2" fill="#c0102e"/>
<circle cx="468.8" cy="335.2" r="1.2" fill="#c0102e"/>
<circle cx="461.6" cy="336.7" r="1.2" fill="#c0102e"/>
<circle cx="466" cy="338.8" r="1.2" fill="#c0102e"/>
<circle cx="460.9" cy="344.6" r="1.2" fill="#c0102e"/>
<circle cx="468.8" cy="342.9" r="1.2" fill="#c0102e"/>
<circle cx="463.8" cy="342" r="1.2" fill="#c0102e"/>
<circle cx="487.6" cy="340.6" r="1.2" fill="#1d3f80"/>
<circle cx="495.5" cy="341" r="1.2" fill="#1d3f80"/>
<circle cx="491.2" cy="356.9" r="1.2" fill="#1d3f80"/>
<circle cx="497.7" cy="327" r="1.2" fill="#c0102e"/>
<circle cx="502" cy="328.5" r="1.2" fill="#c0102e"/>
<circle cx="499.1" cy="331.3" r="1.2" fill="#c0102e"/>
<circle cx="503.5" cy="330.9" r="1.2" fill="#c0102e"/>
<circle cx="506.3" cy="330.2" r="1.2" fill="#c0102e"/>
<line x1="444.3" y1="315.5" x2="444.3" y2="387.4" stroke="#333" stroke-width="1"/>
<line x1="441.4" y1="387.4" x2="444.3" y2="387.4" stroke="#333" stroke-width="1"/>
<text x="437.5" y="389.95" font-size="7.3" text-anchor="end" stroke="#222" stroke-width="0.24">0</text>
<line x1="441.4" y1="373.46" x2="444.3" y2="373.46" stroke="#333" stroke-width="1"/>
<text x="437.5" y="376.01" font-size="7.3" text-anchor="end" stroke="#222" stroke-width="0.24">20</text>
<line x1="441.4" y1="359.52" x2="444.3" y2="359.52" stroke="#333" stroke-width="1"/>
<text x="437.5" y="362.07" font-size="7.3" text-anchor="end" stroke="#222" stroke-width="0.24">40</text>
<line x1="441.4" y1="345.58" x2="444.3" y2="345.58" stroke="#333" stroke-width="1"/>
<text x="437.5" y="348.13" font-size="7.3" text-anchor="end" stroke="#222" stroke-width="0.24">60</text>
<line x1="441.4" y1="331.64" x2="444.3" y2="331.64" stroke="#333" stroke-width="1"/>
<text x="437.5" y="334.19" font-size="7.3" text-anchor="end" stroke="#222" stroke-width="0.24">80</text>
<line x1="441.4" y1="317.7" x2="444.3" y2="317.7" stroke="#333" stroke-width="1"/>
<text x="437.5" y="320.25" font-size="7.3" text-anchor="end" stroke="#222" stroke-width="0.24">100</text>
<line x1="444.3" y1="387.4" x2="514.3" y2="387.4" stroke="#333" stroke-width="0.9"/>
<line x1="459.7" y1="387.4" x2="459.7" y2="389.9" stroke="#333" stroke-width="0.9"/>
<line x1="497.1" y1="387.4" x2="497.1" y2="389.9" stroke="#333" stroke-width="0.9"/>
<path d="M454.4 346V318.7H465.7V325.1" fill="none" stroke="#333" stroke-width="0.9"/>
<ellipse cx="457.15" cy="314.6" rx="0.9" ry="1.1" fill="#1a1a1a"/>
<ellipse cx="460.2" cy="314.6" rx="0.9" ry="1.1" fill="#1a1a1a"/>
<ellipse cx="463.25" cy="314.6" rx="0.9" ry="1.1" fill="#1a1a1a"/>
<path d="M491.9 323.7V318.7H502.7V322.3" fill="none" stroke="#333" stroke-width="0.9"/>
<ellipse cx="497.7" cy="314.6" rx="0.9" ry="1.1" fill="#1a1a1a"/>
<text transform="translate(418.8,350.85) rotate(-90) scale(0.816,1)" font-size="8.2" text-anchor="middle" stroke="#222" stroke-width="0.4">TNFR2<tspan dy="-3.12" font-size="5.08">+</tspan><tspan dy="3.12"> in NK cells, %</tspan></text>
<text x="459.9" y="400.3" font-size="7.6" text-anchor="middle" stroke="#222" stroke-width="0.24">Spleen</text>
<text x="496.9" y="400.3" font-size="7.6" text-anchor="middle" stroke="#222" stroke-width="0.24">PB</text>
<text x="6.5" y="496" font-size="11.6" font-weight="bold" fill="#111">I</text>
<rect x="68.9" y="568.2" width="11.6" height="36.9" fill="#1a5294"/>
<rect x="80.5" y="567.2" width="12.3" height="37.9" fill="#75849f"/>
<rect x="106.2" y="585.8" width="12" height="19.3" fill="#d20c2e"/>
<rect x="118.2" y="576.2" width="12.3" height="28.9" fill="#c07b70"/>
<line x1="74.6" y1="559.7" x2="74.6" y2="575" stroke="#111" stroke-width="0.8"/>
<line x1="71.6" y1="559.7" x2="77.6" y2="559.7" stroke="#111" stroke-width="0.8"/>
<line x1="71.6" y1="575" x2="77.6" y2="575" stroke="#111" stroke-width="0.8"/>
<line x1="86.6" y1="557.2" x2="86.6" y2="575" stroke="#111" stroke-width="0.8"/>
<line x1="83.6" y1="557.2" x2="89.6" y2="557.2" stroke="#111" stroke-width="0.8"/>
<line x1="83.6" y1="575" x2="89.6" y2="575" stroke="#111" stroke-width="0.8"/>
<line x1="112.3" y1="574.2" x2="112.3" y2="597" stroke="#111" stroke-width="0.8"/>
<line x1="109.3" y1="574.2" x2="115.3" y2="574.2" stroke="#111" stroke-width="0.8"/>
<line x1="109.3" y1="597" x2="115.3" y2="597" stroke="#111" stroke-width="0.8"/>
<line x1="124.6" y1="560.3" x2="124.6" y2="590.8" stroke="#111" stroke-width="0.8"/>
<line x1="121.6" y1="560.3" x2="127.6" y2="560.3" stroke="#111" stroke-width="0.8"/>
<line x1="121.6" y1="590.8" x2="127.6" y2="590.8" stroke="#111" stroke-width="0.8"/>
<circle cx="74.6" cy="556.2" r="1.2" fill="#111"/>
<circle cx="72.3" cy="564.3" r="1.2" fill="#111"/>
<circle cx="76.9" cy="565.4" r="1.2" fill="#111"/>
<circle cx="74.6" cy="571.5" r="1.2" fill="#111"/>
<circle cx="74.6" cy="575.4" r="1.2" fill="#111"/>
<circle cx="74.6" cy="578.5" r="1.2" fill="#111"/>
<circle cx="86.9" cy="552.6" r="1.2" fill="#111"/>
<circle cx="86.9" cy="562.8" r="1.2" fill="#111"/>
<circle cx="84.6" cy="573.1" r="1.2" fill="#111"/>
<circle cx="89.2" cy="575.4" r="1.2" fill="#111"/>
<circle cx="86.9" cy="578.5" r="1.2" fill="#111"/>
<circle cx="86.9" cy="570" r="1.2" fill="#111"/>
<circle cx="110" cy="571.5" r="1.2" fill="#111"/>
<circle cx="114.6" cy="571.5" r="1.2" fill="#111"/>
<circle cx="110" cy="578.5" r="1.2" fill="#111"/>
<circle cx="114.6" cy="578.5" r="1.2" fill="#111"/>
<circle cx="112.3" cy="583" r="1.2" fill="#111"/>
<circle cx="110" cy="590" r="1.2" fill="#111"/>
<circle cx="114.6" cy="590" r="1.2" fill="#111"/>
<circle cx="112.3" cy="596" r="1.2" fill="#111"/>
<circle cx="110" cy="603" r="1.2" fill="#111"/>
<circle cx="114.6" cy="603" r="1.2" fill="#111"/>
<circle cx="124.6" cy="546.5" r="1.2" fill="#111"/>
<circle cx="124.6" cy="555.1" r="1.2" fill="#111"/>
<circle cx="119.7" cy="572.3" r="1.2" fill="#111"/>
<circle cx="124.3" cy="572.3" r="1.2" fill="#111"/>
<circle cx="130" cy="572.3" r="1.2" fill="#111"/>
<circle cx="120" cy="585.4" r="1.2" fill="#111"/>
<circle cx="130" cy="585.4" r="1.2" fill="#111"/>
<circle cx="130" cy="587.5" r="1.2" fill="#111"/>
<circle cx="124.6" cy="594.6" r="1.2" fill="#111"/>
<line x1="61.2" y1="526.9" x2="61.2" y2="605.1" stroke="#333" stroke-width="1"/>
<line x1="58.3" y1="605.1" x2="61.2" y2="605.1" stroke="#333" stroke-width="1"/>
<text x="55.2" y="607.87" font-size="7.9" text-anchor="end" stroke="#222" stroke-width="0.24">0</text>
<line x1="58.3" y1="590.22" x2="61.2" y2="590.22" stroke="#333" stroke-width="1"/>
<text x="55.2" y="592.99" font-size="7.9" text-anchor="end" stroke="#222" stroke-width="0.24">10</text>
<line x1="58.3" y1="575.34" x2="61.2" y2="575.34" stroke="#333" stroke-width="1"/>
<text x="55.2" y="578.11" font-size="7.9" text-anchor="end" stroke="#222" stroke-width="0.24">20</text>
<line x1="58.3" y1="560.46" x2="61.2" y2="560.46" stroke="#333" stroke-width="1"/>
<text x="55.2" y="563.23" font-size="7.9" text-anchor="end" stroke="#222" stroke-width="0.24">30</text>
<line x1="58.3" y1="545.58" x2="61.2" y2="545.58" stroke="#333" stroke-width="1"/>
<text x="55.2" y="548.35" font-size="7.9" text-anchor="end" stroke="#222" stroke-width="0.24">40</text>
<line x1="58.3" y1="530.7" x2="61.2" y2="530.7" stroke="#333" stroke-width="1"/>
<text x="55.2" y="533.47" font-size="7.9" text-anchor="end" stroke="#222" stroke-width="0.24">50</text>
<line x1="61.2" y1="605.2" x2="136.5" y2="605.2" stroke="#333" stroke-width="0.9"/>
<line x1="74.6" y1="605.2" x2="74.6" y2="607.7" stroke="#333" stroke-width="0.9"/>
<line x1="86.5" y1="605.2" x2="86.5" y2="607.7" stroke="#333" stroke-width="0.9"/>
<line x1="112.3" y1="605.2" x2="112.3" y2="607.7" stroke="#333" stroke-width="0.9"/>
<line x1="124.6" y1="605.2" x2="124.6" y2="607.7" stroke="#333" stroke-width="0.9"/>
<path d="M86.7 508.2V505.2H124.8V526.3" fill="none" stroke="#333" stroke-width="0.9"/>
<text x="105.7" y="502.4" font-size="7.6" text-anchor="middle" stroke="#222" stroke-width="0.24">ns</text>
<path d="M74.2 526.3V522H112.3V526.3" fill="none" stroke="#333" stroke-width="0.9"/>
<ellipse cx="91.77" cy="517.7" rx="0.9" ry="1.1" fill="#1a1a1a"/>
<ellipse cx="94.82" cy="517.7" rx="0.9" ry="1.1" fill="#1a1a1a"/>
<path d="M74.6 553.8V538H86.6V550.6" fill="none" stroke="#333" stroke-width="0.9"/>
<text x="80.7" y="535.8" font-size="7.6" text-anchor="middle" stroke="#222" stroke-width="0.24">ns</text>
<path d="M112.3 570.5V538H124.6V544.8" fill="none" stroke="#333" stroke-width="0.9"/>
<text x="118.2" y="536.7" font-size="7.9" text-anchor="middle" stroke="#222" stroke-width="0.24">0.0712</text>
<text transform="translate(40.2,565.75) rotate(-90) scale(0.791,1)" font-size="8.2" text-anchor="middle" stroke="#222" stroke-width="0.4">CD107a<tspan dy="-3.12" font-size="5.08">+</tspan><tspan dy="3.12">, %</tspan></text>
<text x="6.6" y="618.4" font-size="7.6" stroke="#222" stroke-width="0.24">ETANERCEPT</text>
<text x="75.6" y="618.4" font-size="7.6" text-anchor="middle" stroke="#222" stroke-width="0.24">−</text>
<text x="86.7" y="618.4" font-size="7.6" text-anchor="middle" stroke="#222" stroke-width="0.24">+</text>
<text x="113" y="618.4" font-size="7.6" text-anchor="middle" stroke="#222" stroke-width="0.24">−</text>
<text x="124.4" y="618.4" font-size="7.6" text-anchor="middle" stroke="#222" stroke-width="0.24">+</text>
<text transform="translate(71.3,635.4) rotate(-45)" font-size="7.7" text-anchor="middle" dy="0.35em" stroke="#222" stroke-width="0.24">Control</text>
<text transform="translate(81.7,640.8) rotate(-45)" font-size="7" text-anchor="middle" dy="0.35em" stroke="#222" stroke-width="0.24">serum</text>
<text transform="translate(113.8,631.3) rotate(-45)" font-size="7.7" text-anchor="middle" dy="0.35em" stroke="#222" stroke-width="0.24">CML</text>
<text transform="translate(120.5,639.5) rotate(-45)" font-size="7" text-anchor="middle" dy="0.35em" stroke="#222" stroke-width="0.24">serum</text>
<text x="173.3" y="496" font-size="11.6" font-weight="bold" fill="#111">J</text>
<text x="223" y="511.5" font-size="9" text-anchor="middle" font-style="italic" stroke="#222" stroke-width="0.24">Cish</text>
<g shape-rendering="crispEdges">
<rect x="217.2" y="517" width="11.6" height="15.48" fill="#1f9a8a"/>
<rect x="217.2" y="532.43" width="11.6" height="15.48" fill="#f2e61f"/>
<rect x="217.2" y="547.86" width="11.6" height="15.48" fill="#3c4f8a"/>
<rect x="217.2" y="563.29" width="11.6" height="15.48" fill="#22a187"/>
<rect x="217.2" y="578.72" width="11.6" height="15.48" fill="#472a7a"/>
<rect x="217.2" y="594.15" width="11.6" height="15.48" fill="#f2e61f"/>
<rect x="217.2" y="609.58" width="11.6" height="15.48" fill="#482677"/>
</g>
<text x="214.2" y="527.51" font-size="7.7" text-anchor="end" stroke="#222" stroke-width="0.24">TNFa</text>
<text x="214.2" y="542.94" font-size="7.7" text-anchor="end" stroke="#222" stroke-width="0.24">IL2+IL15</text>
<text x="214.2" y="558.38" font-size="7.7" text-anchor="end" stroke="#222" stroke-width="0.24">IL2+IFNg</text>
<text x="214.2" y="573.8" font-size="7.7" text-anchor="end" stroke="#222" stroke-width="0.24">IL2</text>
<text x="214.2" y="589.24" font-size="7.7" text-anchor="end" stroke="#222" stroke-width="0.24">IL17a</text>
<text x="214.2" y="604.66" font-size="7.7" text-anchor="end" stroke="#222" stroke-width="0.24">IL15</text>
<text x="214.2" y="620.1" font-size="7.7" text-anchor="end" stroke="#222" stroke-width="0.24">IFNg</text>
<defs><linearGradient id="vir" x1="0" x2="0" y1="1" y2="0"><stop offset="0" stop-color="#472d7b"/><stop offset="0.15" stop-color="#433e85"/><stop offset="0.3" stop-color="#38588c"/><stop offset="0.45" stop-color="#2a788e"/><stop offset="0.6" stop-color="#21918c"/><stop offset="0.72" stop-color="#28ae80"/><stop offset="0.85" stop-color="#5ec962"/><stop offset="1" stop-color="#c2df23"/></linearGradient></defs>
<rect x="234.8" y="550.8" width="12.7" height="40.5" fill="url(#vir)" stroke="#333" stroke-width="0.9"/>
<line x1="247.5" y1="558.4" x2="250.2" y2="558.4" stroke="#333" stroke-width="0.9"/>
<text x="253.4" y="561.15" font-size="7.5" stroke="#222" stroke-width="0.24">0.6</text>
<line x1="247.5" y1="572.2" x2="250.2" y2="572.2" stroke="#333" stroke-width="0.9"/>
<text x="253.4" y="574.95" font-size="7.5" stroke="#222" stroke-width="0.24">0.4</text>
<line x1="247.5" y1="585.7" x2="250.2" y2="585.7" stroke="#333" stroke-width="0.9"/>
<text x="253.4" y="588.45" font-size="7.5" stroke="#222" stroke-width="0.24">0.2</text>
<text x="288" y="496" font-size="11.6" font-weight="bold" fill="#111">K</text>
<line x1="352.6" y1="593.9" x2="352.6" y2="604" stroke="#111" stroke-width="0.7"/>
<line x1="350.8" y1="593.9" x2="354.4" y2="593.9" stroke="#111" stroke-width="0.7"/>
<rect x="346.9" y="596.1" width="11.9" height="6" fill="#1a5294"/>
<circle cx="350" cy="597.5" r="1.1" fill="#111"/>
<circle cx="355.5" cy="597.8" r="1.1" fill="#111"/>
<circle cx="349.5" cy="601.5" r="1.1" fill="#111"/>
<circle cx="354.5" cy="602" r="1.1" fill="#111"/>
<line x1="365.3" y1="594.6" x2="365.3" y2="601.1" stroke="#111" stroke-width="0.7"/>
<line x1="363.6" y1="594.6" x2="367" y2="594.6" stroke="#111" stroke-width="0.7"/>
<line x1="363.6" y1="601.1" x2="367" y2="601.1" stroke="#111" stroke-width="0.7"/>
<line x1="360.2" y1="598.2" x2="371" y2="598.2" stroke="#111" stroke-width="0.7"/>
<circle cx="365.2" cy="595.3" r="1.1" fill="#111"/>
<circle cx="365.2" cy="601.1" r="1.1" fill="#111"/>
<line x1="389.8" y1="537.6" x2="389.8" y2="598.7" stroke="#555" stroke-width="0.7"/>
<line x1="387.6" y1="537.6" x2="392" y2="537.6" stroke="#111" stroke-width="0.8"/>
<line x1="387.6" y1="598.7" x2="392" y2="598.7" stroke="#111" stroke-width="0.8"/>
<rect x="384" y="566.5" width="12" height="25.5" fill="#d20c2e"/>
<line x1="384" y1="583.1" x2="396" y2="583.1" stroke="#8a0a20" stroke-width="0.7"/>
<circle cx="389.8" cy="575.1" r="1.1" fill="#111"/>
<circle cx="389.8" cy="580.9" r="1.1" fill="#111"/>
<circle cx="389.8" cy="585.2" r="1.1" fill="#111"/>
<circle cx="389.8" cy="589.6" r="1.1" fill="#111"/>
<circle cx="389.8" cy="537.6" r="1.1" fill="#111"/>
<circle cx="389.8" cy="598.5" r="1.1" fill="#111"/>
<rect x="397" y="589.6" width="11.5" height="13.4" fill="#b77565"/>
<circle cx="399.1" cy="589.8" r="1.2" fill="#111"/>
<circle cx="405.6" cy="589.8" r="1.2" fill="#111"/>
<circle cx="397.9" cy="602.5" r="1.2" fill="#111"/>
<circle cx="403.3" cy="601.6" r="1.2" fill="#111"/>
<circle cx="407.3" cy="602.5" r="1.2" fill="#111"/>
<line x1="339.9" y1="526.6" x2="339.9" y2="604.9" stroke="#333" stroke-width="1"/>
<line x1="337" y1="604.9" x2="339.9" y2="604.9" stroke="#333" stroke-width="1"/>
<text x="333.3" y="607.35" font-size="7" text-anchor="end" stroke="#222" stroke-width="0.24">0</text>
<line x1="337" y1="589.9" x2="339.9" y2="589.9" stroke="#333" stroke-width="1"/>
<text x="333.3" y="592.35" font-size="7" text-anchor="end" stroke="#222" stroke-width="0.24">2</text>
<line x1="337" y1="574.9" x2="339.9" y2="574.9" stroke="#333" stroke-width="1"/>
<text x="333.3" y="577.35" font-size="7" text-anchor="end" stroke="#222" stroke-width="0.24">4</text>
<line x1="337" y1="559.9" x2="339.9" y2="559.9" stroke="#333" stroke-width="1"/>
<text x="333.3" y="562.35" font-size="7" text-anchor="end" stroke="#222" stroke-width="0.24">6</text>
<line x1="337" y1="544.9" x2="339.9" y2="544.9" stroke="#333" stroke-width="1"/>
<text x="333.3" y="547.35" font-size="7" text-anchor="end" stroke="#222" stroke-width="0.24">8</text>
<line x1="337" y1="529.9" x2="339.9" y2="529.9" stroke="#333" stroke-width="1"/>
<text x="333.3" y="532.35" font-size="7" text-anchor="end" stroke="#222" stroke-width="0.24">10</text>
<line x1="339.9" y1="605" x2="415.7" y2="605" stroke="#333" stroke-width="0.9"/>
<line x1="358.5" y1="605" x2="358.5" y2="607.5" stroke="#333" stroke-width="0.9"/>
<line x1="396.3" y1="605" x2="396.3" y2="607.5" stroke="#333" stroke-width="0.9"/>
<path d="M365.1 501V495.3H403V516.3" fill="none" stroke="#333" stroke-width="0.9"/>
<text x="384" y="492.8" font-size="7.4" text-anchor="middle" stroke="#222" stroke-width="0.24">ns</text>
<path d="M352.1 517.5V513.5H390.4V517.5" fill="none" stroke="#333" stroke-width="0.9"/>
<ellipse cx="371.3" cy="509.1" rx="0.9" ry="1.1" fill="#1a1a1a"/>
<path d="M352.3 593.2V529.5H365.3V591" fill="none" stroke="#555" stroke-width="0.9"/>
<text x="358.8" y="527.2" font-size="7.4" text-anchor="middle" stroke="#222" stroke-width="0.24">ns</text>
<path d="M389.8 533.3V529.5H402.5V586.7" fill="none" stroke="#555" stroke-width="0.9"/>
<ellipse cx="396.3" cy="525.2" rx="0.9" ry="1.1" fill="#1a1a1a"/>
<text transform="translate(306.7,565.65) rotate(-90) scale(0.846,1)" font-size="7.4" text-anchor="middle" stroke="#222" stroke-width="0.4">Normalized expression</text>
<text transform="translate(318.9,565.65) rotate(-90) scale(0.851,1)" font-size="7.4" text-anchor="middle" stroke="#222" stroke-width="0.4">(2-ddCt)</text>
<rect x="421.8" y="528.7" width="5.5" height="5.5" fill="#a3a3a3"/>
<rect x="421.8" y="539.8" width="5.5" height="5.5" fill="#7b7b7b"/>
<text x="430.8" y="534.2" font-size="7.2" stroke="#222" stroke-width="0.24">no drug</text>
<text x="430.8" y="545.1" font-size="7.2" stroke="#222" stroke-width="0.24">+ ETANERCEPT</text>
<text transform="translate(352.5,623.4) rotate(-45)" font-size="7.7" text-anchor="middle" dy="0.35em" stroke="#222" stroke-width="0.24">Control</text>
<text transform="translate(361.2,629) rotate(-45)" font-size="7" text-anchor="middle" dy="0.35em" stroke="#222" stroke-width="0.24">serum</text>
<text transform="translate(394,620.6) rotate(-45)" font-size="7.7" text-anchor="middle" dy="0.35em" stroke="#222" stroke-width="0.24">CML</text>
<text transform="translate(400.1,629) rotate(-45)" font-size="7" text-anchor="middle" dy="0.35em" stroke="#222" stroke-width="0.24">serum</text>
</g>
<rect x="0" y="0" width="520" height="1" fill="#5a5a5a"/>
<rect x="0" y="0" width="1.2" height="656" fill="#444"/>
<rect x="519" y="0" width="1" height="656" fill="#3a3a3a"/>
<rect x="0" y="655" width="520" height="1" fill="#3a3a3a"/>
</svg></body></html>
